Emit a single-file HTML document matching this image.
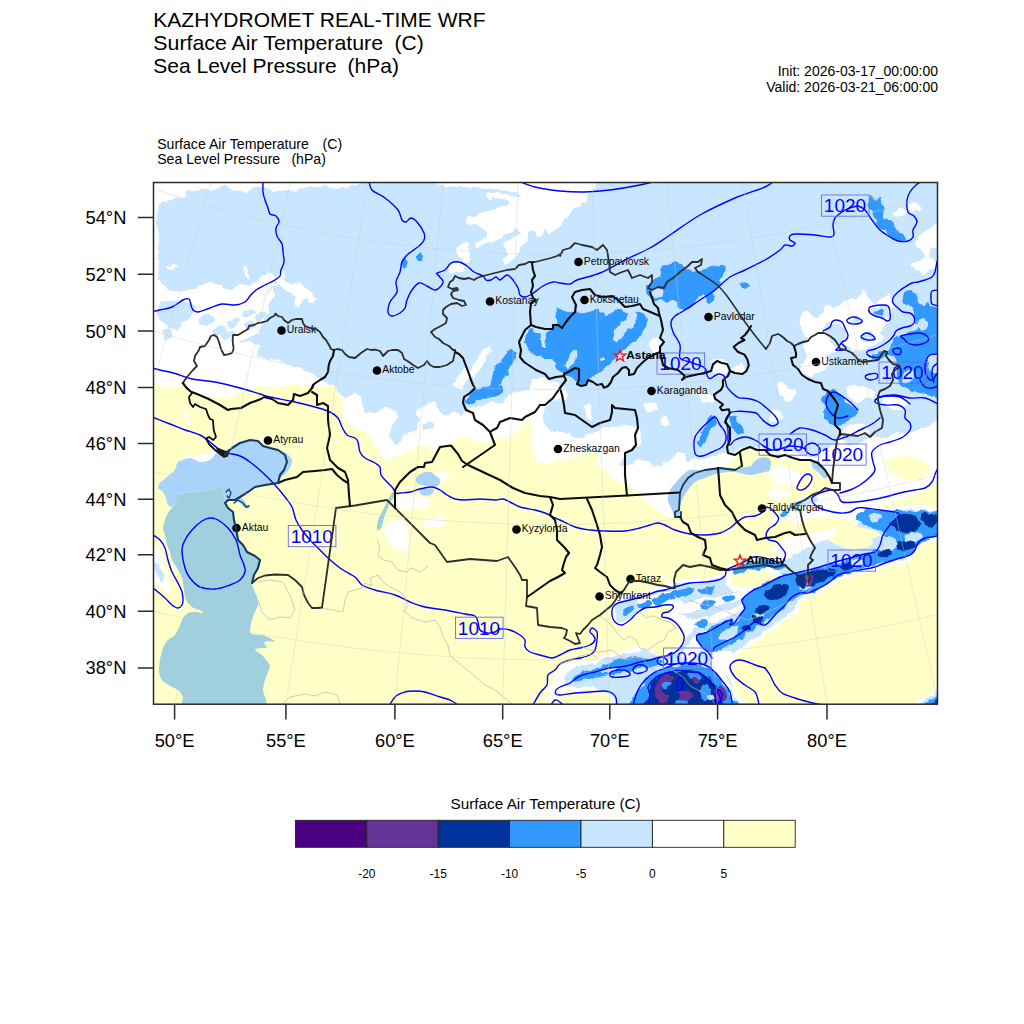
<!DOCTYPE html>
<html><head><meta charset="utf-8">
<style>
html,body{margin:0;padding:0;background:#fff;}
body{width:1024px;height:1024px;position:relative;overflow:hidden;font-family:"Liberation Sans",sans-serif;color:#000;}
svg{position:absolute;left:0;top:0;}
text{font-family:"Liberation Sans",sans-serif;}
</style></head><body>
<svg width="1024" height="1024" viewBox="0 0 1024 1024">
<defs><filter id="rag" x="-2%" y="-2%" width="104%" height="104%" filterUnits="objectBoundingBox"><feTurbulence type="fractalNoise" baseFrequency="0.11" numOctaves="2" seed="7" result="n"/><feDisplacementMap in="SourceGraphic" in2="n" scale="7" xChannelSelector="R" yChannelSelector="G"/></filter><clipPath id="mc"><rect x="153.5" y="182.5" width="784" height="521.7"/></clipPath></defs>
<!-- titles -->
<g font-size="21" fill="#000">
<text x="153.3" y="26.5" textLength="332.2" lengthAdjust="spacingAndGlyphs">KAZHYDROMET REAL-TIME WRF</text>
<text x="153.3" y="49.9" textLength="229.8" lengthAdjust="spacingAndGlyphs">Surface Air Temperature</text><text x="394.6" y="49.9">(C)</text>
<text x="153.3" y="73.3">Sea Level Pressure</text><text x="347.6" y="73.3">(hPa)</text>
</g>
<g font-size="14" text-anchor="end"><text x="938" y="75.6">Init: 2026-03-17_00:00:00</text><text x="938" y="91.6">Valid: 2026-03-21_06:00:00</text></g>
<g font-size="14.1"><text x="157.2" y="148.5">Surface Air Temperature</text><text x="322.6" y="148.5">(C)</text><text x="157.2" y="164.2">Sea Level Pressure</text><text x="291.4" y="164.2">(hPa)</text></g>
<!-- MAP -->
<g id="map" clip-path="url(#mc)">
<rect x="153" y="182" width="786" height="523" fill="#fff"/>
<g filter="url(#rag)">
<rect x="130" y="160" width="832" height="568" fill="#C8E6FF"/>
<path d="M150.0 180.0C183.7 163.3 319.3 179.0 352.0 180.0C384.7 181.0 349.3 184.7 346.0 186.0C342.7 187.3 336.7 188.0 332.0 188.0C327.3 188.0 322.5 185.8 318.0 186.0C313.5 186.2 309.3 188.3 305.0 189.0C300.7 189.7 296.5 189.5 292.0 190.0C287.5 190.5 282.3 192.3 278.0 192.0C273.7 191.7 269.7 189.0 266.0 188.0C262.3 187.0 259.3 185.3 256.0 186.0C252.7 186.7 249.3 191.2 246.0 192.0C242.7 192.8 239.3 191.8 236.0 191.0C232.7 190.2 229.8 187.2 226.0 187.0C222.2 186.8 217.3 189.5 213.0 190.0C208.7 190.5 204.2 189.8 200.0 190.0C195.8 190.2 190.8 189.8 188.0 191.0C185.2 192.2 185.8 195.5 183.0 197.0C180.2 198.5 174.7 199.0 171.0 200.0C167.3 201.0 163.2 200.5 161.0 203.0C158.8 205.5 158.5 207.2 158.0 215.0C157.5 222.8 158.0 239.7 158.0 250.0C158.0 260.3 159.3 272.0 158.0 277.0C156.7 282.0 151.3 296.2 150.0 280.0C148.7 263.8 116.3 196.7 150.0 180.0Z" fill="#FFFFFF"/>
<path d="M150.0 278.0C151.7 276.3 157.5 278.5 160.0 280.0C162.5 281.5 161.7 285.0 165.0 287.0C168.3 289.0 175.0 291.8 180.0 292.0C185.0 292.2 190.8 289.5 195.0 288.0C199.2 286.5 201.7 283.7 205.0 283.0C208.3 282.3 211.2 282.8 215.0 284.0C218.8 285.2 224.2 289.8 228.0 290.0C231.8 290.2 234.7 285.5 238.0 285.0C241.3 284.5 245.0 287.5 248.0 287.0C251.0 286.5 253.5 283.8 256.0 282.0C258.5 280.2 260.7 277.5 263.0 276.0C265.3 274.5 268.0 272.7 270.0 273.0C272.0 273.3 274.7 276.0 275.0 278.0C275.3 280.0 273.2 282.7 272.0 285.0C270.8 287.3 268.0 289.8 268.0 292.0C268.0 294.2 272.0 295.8 272.0 298.0C272.0 300.2 268.3 302.7 268.0 305.0C267.7 307.3 270.5 309.8 270.0 312.0C269.5 314.2 266.3 315.7 265.0 318.0C263.7 320.3 263.5 323.5 262.0 326.0C260.5 328.5 258.3 330.8 256.0 333.0C253.7 335.2 251.0 337.5 248.0 339.0C245.0 340.5 237.7 341.2 238.0 342.0C238.3 342.8 246.0 343.5 250.0 344.0C254.0 344.5 260.7 343.2 262.0 345.0C263.3 346.8 255.8 352.3 258.0 355.0C260.2 357.7 268.0 358.8 275.0 361.0C282.0 363.2 292.5 365.0 300.0 368.0C307.5 371.0 314.7 376.0 320.0 379.0C325.3 382.0 329.0 383.8 332.0 386.0C335.0 388.2 335.8 391.3 338.0 392.0C340.2 392.7 342.7 389.3 345.0 390.0C347.3 390.7 350.2 395.2 352.0 396.0C353.8 396.8 354.3 394.3 356.0 395.0C357.7 395.7 360.5 397.5 362.0 400.0C363.5 402.5 362.8 408.0 365.0 410.0C367.2 412.0 371.7 412.3 375.0 412.0C378.3 411.7 381.7 408.3 385.0 408.0C388.3 407.7 392.8 408.8 395.0 410.0C397.2 411.2 398.3 412.5 398.0 415.0C397.7 417.5 394.3 421.7 393.0 425.0C391.7 428.3 390.0 432.0 390.0 435.0C390.0 438.0 391.3 441.7 393.0 443.0C394.7 444.3 398.0 444.3 400.0 443.0C402.0 441.7 402.5 437.2 405.0 435.0C407.5 432.8 412.5 432.5 415.0 430.0C417.5 427.5 419.7 422.5 420.0 420.0C420.3 417.5 417.0 417.2 417.0 415.0C417.0 412.8 417.8 409.2 420.0 407.0C422.2 404.8 427.2 402.7 430.0 402.0C432.8 401.3 435.3 401.3 437.0 403.0C438.7 404.7 437.8 410.0 440.0 412.0C442.2 414.0 447.5 415.0 450.0 415.0C452.5 415.0 453.3 412.0 455.0 412.0C456.7 412.0 458.3 415.3 460.0 415.0C461.7 414.7 462.5 411.3 465.0 410.0C467.5 408.7 470.8 408.2 475.0 407.0C479.2 405.8 485.8 403.3 490.0 403.0C494.2 402.7 497.2 405.8 500.0 405.0C502.8 404.2 504.5 400.2 507.0 398.0C509.5 395.8 512.0 393.3 515.0 392.0C518.0 390.7 520.8 390.0 525.0 390.0C529.2 390.0 535.0 392.0 540.0 392.0C545.0 392.0 551.7 390.7 555.0 390.0C558.3 389.3 557.8 388.0 560.0 388.0C562.2 388.0 566.8 388.3 568.0 390.0C569.2 391.7 569.2 396.3 567.0 398.0C564.8 399.7 558.3 398.8 555.0 400.0C551.7 401.2 549.0 402.5 547.0 405.0C545.0 407.5 543.3 411.7 543.0 415.0C542.7 418.3 543.8 422.0 545.0 425.0C546.2 428.0 547.5 431.8 550.0 433.0C552.5 434.2 557.0 432.0 560.0 432.0C563.0 432.0 565.5 432.0 568.0 433.0C570.5 434.0 572.2 437.3 575.0 438.0C577.8 438.7 581.7 438.0 585.0 437.0C588.3 436.0 591.7 433.5 595.0 432.0C598.3 430.5 601.7 428.8 605.0 428.0C608.3 427.2 611.7 427.5 615.0 427.0C618.3 426.5 621.7 425.0 625.0 425.0C628.3 425.0 632.2 425.8 635.0 427.0C637.8 428.2 641.2 429.0 642.0 432.0C642.8 435.0 641.7 442.5 640.0 445.0C638.3 447.5 634.5 445.0 632.0 447.0C629.5 449.0 627.0 454.0 625.0 457.0C623.0 460.0 620.0 463.3 620.0 465.0C620.0 466.7 622.5 467.5 625.0 467.0C627.5 466.5 631.7 463.2 635.0 462.0C638.3 460.8 642.2 459.5 645.0 460.0C647.8 460.5 649.5 464.2 652.0 465.0C654.5 465.8 657.3 465.8 660.0 465.0C662.7 464.2 665.5 461.7 668.0 460.0C670.5 458.3 673.0 456.3 675.0 455.0C677.0 453.7 678.3 452.0 680.0 452.0C681.7 452.0 683.7 453.3 685.0 455.0C686.3 456.7 685.5 461.5 688.0 462.0C690.5 462.5 695.5 459.2 700.0 458.0C704.5 456.8 710.0 456.0 715.0 455.0C720.0 454.0 725.8 452.8 730.0 452.0C734.2 451.2 735.8 450.7 740.0 450.0C744.2 449.3 750.8 448.5 755.0 448.0C759.2 447.5 761.7 446.7 765.0 447.0C768.3 447.3 770.8 449.2 775.0 450.0C779.2 450.8 785.0 451.2 790.0 452.0C795.0 452.8 800.8 454.2 805.0 455.0C809.2 455.8 811.7 457.5 815.0 457.0C818.3 456.5 822.2 454.0 825.0 452.0C827.8 450.0 829.8 447.0 832.0 445.0C834.2 443.0 835.8 440.5 838.0 440.0C840.2 439.5 842.2 441.2 845.0 442.0C847.8 442.8 851.7 445.3 855.0 445.0C858.3 444.7 862.5 441.3 865.0 440.0C867.5 438.7 867.5 437.3 870.0 437.0C872.5 436.7 876.7 438.2 880.0 438.0C883.3 437.8 886.7 437.0 890.0 436.0C893.3 435.0 896.3 432.8 900.0 432.0C903.7 431.2 907.8 431.7 912.0 431.0C916.2 430.3 920.3 428.8 925.0 428.0C929.7 427.2 937.5 414.0 940.0 426.0C942.5 438.0 940.0 452.7 940.0 500.0C940.0 547.3 1071.7 675.0 940.0 710.0C808.3 745.0 281.7 745.0 150.0 710.0C18.3 675.0 150.0 570.0 150.0 500.0C150.0 430.0 150.0 327.0 150.0 290.0C150.0 253.0 148.3 279.7 150.0 278.0Z" fill="#FFFFFF"/>
<path d="M150.0 383.0C152.5 383.0 159.2 385.3 165.0 386.0C170.8 386.7 180.5 385.8 185.0 387.0C189.5 388.2 188.7 391.3 192.0 393.0C195.3 394.7 199.5 396.3 205.0 397.0C210.5 397.7 219.2 397.7 225.0 397.0C230.8 396.3 235.8 394.2 240.0 393.0C244.2 391.8 246.3 391.2 250.0 390.0C253.7 388.8 255.3 386.7 262.0 386.0C268.7 385.3 280.3 386.0 290.0 386.0C299.7 386.0 312.5 385.8 320.0 386.0C327.5 386.2 331.7 385.0 335.0 387.0C338.3 389.0 338.7 393.8 340.0 398.0C341.3 402.2 341.8 407.7 343.0 412.0C344.2 416.3 345.0 421.5 347.0 424.0C349.0 426.5 352.0 425.7 355.0 427.0C358.0 428.3 362.2 429.8 365.0 432.0C367.8 434.2 369.5 436.2 372.0 440.0C374.5 443.8 377.8 451.3 380.0 455.0C382.2 458.7 382.5 461.5 385.0 462.0C387.5 462.5 391.7 459.7 395.0 458.0C398.3 456.3 401.7 453.8 405.0 452.0C408.3 450.2 411.7 448.2 415.0 447.0C418.3 445.8 422.5 444.2 425.0 445.0C427.5 445.8 428.0 451.7 430.0 452.0C432.0 452.3 434.5 448.2 437.0 447.0C439.5 445.8 442.0 446.2 445.0 445.0C448.0 443.8 451.7 441.3 455.0 440.0C458.3 438.7 461.7 437.0 465.0 437.0C468.3 437.0 471.7 439.2 475.0 440.0C478.3 440.8 481.7 442.0 485.0 442.0C488.3 442.0 491.7 440.7 495.0 440.0C498.3 439.3 502.2 438.8 505.0 438.0C507.8 437.2 509.5 436.7 512.0 435.0C514.5 433.3 517.5 430.0 520.0 428.0C522.5 426.0 524.8 423.0 527.0 423.0C529.2 423.0 532.2 425.2 533.0 428.0C533.8 430.8 531.7 436.3 532.0 440.0C532.3 443.7 534.5 446.7 535.0 450.0C535.5 453.3 533.3 457.8 535.0 460.0C536.7 462.2 542.0 462.7 545.0 463.0C548.0 463.3 550.5 462.8 553.0 462.0C555.5 461.2 557.2 458.3 560.0 458.0C562.8 457.7 566.7 460.5 570.0 460.0C573.3 459.5 576.7 456.3 580.0 455.0C583.3 453.7 586.7 452.0 590.0 452.0C593.3 452.0 599.2 452.8 600.0 455.0C600.8 457.2 594.2 462.5 595.0 465.0C595.8 467.5 601.7 467.8 605.0 470.0C608.3 472.2 611.7 475.8 615.0 478.0C618.3 480.2 621.7 481.0 625.0 483.0C628.3 485.0 632.5 487.7 635.0 490.0C637.5 492.3 637.5 494.5 640.0 497.0C642.5 499.5 646.7 502.5 650.0 505.0C653.3 507.5 656.7 510.0 660.0 512.0C663.3 514.0 667.3 517.0 670.0 517.0C672.7 517.0 675.2 515.2 676.0 512.0C676.8 508.8 674.3 502.7 675.0 498.0C675.7 493.3 677.5 487.7 680.0 484.0C682.5 480.3 685.8 478.0 690.0 476.0C694.2 474.0 700.3 473.0 705.0 472.0C709.7 471.0 714.3 471.0 718.0 470.0C721.7 469.0 724.7 467.8 727.0 466.0C729.3 464.2 730.2 460.8 732.0 459.0C733.8 457.2 735.7 456.2 738.0 455.0C740.3 453.8 742.8 452.7 746.0 452.0C749.2 451.3 753.8 451.2 757.0 451.0C760.2 450.8 761.5 449.8 765.0 451.0C768.5 452.2 773.3 456.5 778.0 458.0C782.7 459.5 787.7 459.3 793.0 460.0C798.3 460.7 805.2 460.3 810.0 462.0C814.8 463.7 818.7 467.0 822.0 470.0C825.3 473.0 828.3 477.3 830.0 480.0C831.7 482.7 830.3 482.7 832.0 486.0C833.7 489.3 835.3 496.7 840.0 500.0C844.7 503.3 850.0 506.0 860.0 506.0C870.0 506.0 886.7 502.7 900.0 500.0C913.3 497.3 933.3 473.3 940.0 490.0C946.7 506.7 940.0 563.3 940.0 600.0C940.0 636.7 1071.7 691.7 940.0 710.0C808.3 728.3 281.7 728.3 150.0 710.0C18.3 691.7 150.0 651.7 150.0 600.0C150.0 548.3 150.0 435.7 150.0 400.0C150.0 364.3 150.0 388.8 150.0 386.0C150.0 383.2 147.5 383.0 150.0 383.0Z" fill="#FFFFC8"/>
<path d="M442.0 180.0C458.9 179.3 573.1 177.9 590.0 180.0C606.9 182.1 587.9 195.3 587.0 198.0C586.1 200.7 583.4 201.8 582.0 203.0C580.6 204.2 576.4 206.6 575.0 208.0C573.6 209.4 571.2 213.6 570.0 215.0C568.8 216.4 566.2 218.7 565.0 220.0C563.8 221.3 561.2 224.8 560.0 226.0C558.8 227.2 556.2 229.1 555.0 230.0C553.8 230.9 550.9 234.0 550.0 234.0C549.1 234.0 547.8 230.1 547.0 230.0C546.2 229.9 544.0 232.1 543.0 233.0C542.0 233.9 538.9 238.0 538.0 238.0C537.1 238.0 535.9 233.7 535.0 233.0C534.1 232.3 530.9 231.4 530.0 232.0C529.1 232.6 527.9 236.5 527.0 238.0C526.1 239.5 522.8 243.4 522.0 245.0C521.2 246.6 520.8 250.6 520.0 252.0C519.2 253.4 516.2 255.8 515.0 257.0C513.8 258.2 511.2 261.1 510.0 262.0C508.8 262.9 505.9 265.2 505.0 265.0C504.1 264.8 501.6 261.2 502.0 260.0C502.4 258.8 507.6 256.4 508.0 255.0C508.4 253.6 505.6 249.2 505.0 248.0C504.4 246.8 502.4 245.9 503.0 245.0C503.6 244.1 508.4 241.2 510.0 240.0C511.6 238.8 515.8 236.2 517.0 235.0C518.2 233.8 520.2 230.7 520.0 230.0C519.8 229.3 516.4 228.7 515.0 229.0C513.6 229.3 509.8 231.9 508.0 233.0C506.2 234.1 501.9 236.9 500.0 238.0C498.1 239.1 493.8 241.4 492.0 242.0C490.2 242.6 486.6 242.3 485.0 243.0C483.4 243.7 479.2 247.8 478.0 248.0C476.8 248.2 474.8 245.9 475.0 245.0C475.2 244.1 478.6 241.2 480.0 240.0C481.4 238.8 486.6 236.2 487.0 235.0C487.4 233.8 484.1 231.2 483.0 230.0C481.9 228.8 479.2 225.6 478.0 225.0C476.8 224.4 474.3 225.3 473.0 225.0C471.7 224.7 467.4 222.9 467.0 222.0C466.6 221.1 468.7 217.8 470.0 217.0C471.3 216.2 476.2 215.6 478.0 215.0C479.8 214.4 483.2 212.6 485.0 212.0C486.8 211.4 491.2 210.6 493.0 210.0C494.8 209.4 498.4 207.6 500.0 207.0C501.6 206.4 506.1 205.7 507.0 205.0C507.9 204.3 508.5 201.7 508.0 201.0C507.5 200.3 504.5 199.3 503.0 199.0C501.5 198.7 496.5 197.9 495.0 198.0C493.5 198.1 491.2 200.1 490.0 200.0C488.8 199.9 485.0 197.8 485.0 197.0C485.0 196.2 488.2 193.5 490.0 193.0C491.8 192.5 497.7 192.8 500.0 193.0C502.3 193.2 507.7 194.7 510.0 195.0C512.3 195.3 519.4 196.3 520.0 196.0C520.6 195.7 517.3 192.7 515.0 192.0C512.7 191.3 502.9 190.5 500.0 190.0C497.1 189.5 492.9 188.2 490.0 188.0C487.1 187.8 478.5 188.1 475.0 188.0C471.5 187.9 463.5 187.2 460.0 187.0C456.5 186.8 447.1 186.8 445.0 186.0C442.9 185.2 425.1 180.7 442.0 180.0Z" fill="#FFFFFF"/>
<path d="M460.0 245.0C461.3 243.8 464.3 242.2 466.0 243.0C467.7 243.8 469.3 247.5 470.0 250.0C470.7 252.5 470.8 256.0 470.0 258.0C469.2 260.0 466.7 262.0 465.0 262.0C463.3 262.0 461.2 260.0 460.0 258.0C458.8 256.0 458.0 252.2 458.0 250.0C458.0 247.8 458.7 246.2 460.0 245.0Z" fill="#FFFFFF"/>
<path d="M451.0 266.0C452.3 264.5 455.7 262.2 458.0 262.0C460.3 261.8 464.0 263.5 465.0 265.0C466.0 266.5 465.5 269.7 464.0 271.0C462.5 272.3 458.3 273.0 456.0 273.0C453.7 273.0 450.8 272.2 450.0 271.0C449.2 269.8 449.7 267.5 451.0 266.0Z" fill="#FFFFFF"/>
<path d="M560.0 180.0C565.3 176.7 583.5 178.3 588.0 180.0C592.5 181.7 587.3 186.7 587.0 190.0C586.7 193.3 588.0 197.0 586.0 200.0C584.0 203.0 578.0 205.0 575.0 208.0C572.0 211.0 570.5 215.3 568.0 218.0C565.5 220.7 562.2 222.7 560.0 224.0C557.8 225.3 555.7 230.0 555.0 226.0C554.3 222.0 555.2 207.7 556.0 200.0C556.8 192.3 554.7 183.3 560.0 180.0Z" fill="#FFFFFF"/>
<path d="M277.0 275.0C278.2 273.5 281.7 271.9 283.0 272.0C284.3 272.1 286.9 274.8 287.0 276.0C287.1 277.2 283.6 279.9 284.0 281.0C284.4 282.1 287.9 283.7 290.0 284.0C292.1 284.3 297.9 282.6 300.0 283.0C302.1 283.4 304.7 285.8 306.0 287.0C307.3 288.2 308.7 290.3 310.0 292.0C311.3 293.7 315.7 298.5 316.0 300.0C316.3 301.5 313.5 303.3 312.0 303.0C310.5 302.7 306.6 298.0 305.0 298.0C303.4 298.0 301.1 301.7 300.0 303.0C298.9 304.3 297.9 308.1 297.0 308.0C296.1 307.9 293.1 303.6 293.0 302.0C292.9 300.4 296.4 297.3 296.0 296.0C295.6 294.7 291.6 292.8 290.0 292.0C288.4 291.2 285.6 290.9 284.0 290.0C282.4 289.1 279.6 285.4 278.0 285.0C276.4 284.6 272.4 285.7 272.0 287.0C271.6 288.3 275.3 293.3 275.0 295.0C274.7 296.7 271.2 299.7 270.0 300.0C268.8 300.3 266.0 298.3 266.0 297.0C266.0 295.7 268.9 291.9 270.0 290.0C271.1 288.1 273.1 285.0 274.0 283.0C274.9 281.0 275.8 276.5 277.0 275.0Z" fill="#FFFFFF"/>
<path d="M243.0 268.0C243.3 267.0 246.0 265.3 247.0 266.0C248.0 266.7 248.5 270.0 249.0 272.0C249.5 274.0 250.3 277.2 250.0 278.0C249.7 278.8 247.8 278.0 247.0 277.0C246.2 276.0 245.7 273.5 245.0 272.0C244.3 270.5 242.7 269.0 243.0 268.0Z" fill="#FFFFFF"/>
<path d="M167.0 266.0C168.3 265.2 172.8 264.2 175.0 264.0C177.2 263.8 180.2 264.3 180.0 265.0C179.8 265.7 176.2 267.3 174.0 268.0C171.8 268.7 168.2 269.3 167.0 269.0C165.8 268.7 165.7 266.8 167.0 266.0Z" fill="#FFFFFF"/>
<path d="M470.0 372.0C470.3 369.2 473.7 363.7 476.0 360.0C478.3 356.3 481.7 352.5 484.0 350.0C486.3 347.5 488.8 345.0 490.0 345.0C491.2 345.0 491.7 347.5 491.0 350.0C490.3 352.5 487.8 356.7 486.0 360.0C484.2 363.3 482.0 367.2 480.0 370.0C478.0 372.8 475.7 376.7 474.0 377.0C472.3 377.3 469.7 374.8 470.0 372.0Z" fill="#FFFFFF"/>
<path d="M455.0 385.0C454.3 382.8 456.3 377.7 458.0 375.0C459.7 372.3 463.0 369.5 465.0 369.0C467.0 368.5 469.8 370.2 470.0 372.0C470.2 373.8 467.3 377.3 466.0 380.0C464.7 382.7 463.8 387.2 462.0 388.0C460.2 388.8 455.7 387.2 455.0 385.0Z" fill="#FFFFFF"/>
<path d="M160.0 305.0C161.7 302.7 165.0 300.5 168.0 300.0C171.0 299.5 174.3 301.3 178.0 302.0C181.7 302.7 187.2 302.7 190.0 304.0C192.8 305.3 195.0 307.7 195.0 310.0C195.0 312.3 192.0 315.7 190.0 318.0C188.0 320.3 185.3 322.0 183.0 324.0C180.7 326.0 178.5 329.3 176.0 330.0C173.5 330.7 170.2 329.7 168.0 328.0C165.8 326.3 164.7 322.3 163.0 320.0C161.3 317.7 158.5 316.5 158.0 314.0C157.5 311.5 158.3 307.3 160.0 305.0Z" fill="#C8E6FF"/>
<path d="M228.0 322.0C228.7 320.5 232.0 318.3 234.0 318.0C236.0 317.7 239.7 318.7 240.0 320.0C240.3 321.3 237.7 324.8 236.0 326.0C234.3 327.2 231.3 327.7 230.0 327.0C228.7 326.3 227.3 323.5 228.0 322.0Z" fill="#C8E6FF"/>
<path d="M243.0 312.0C244.2 310.8 248.2 308.8 250.0 309.0C251.8 309.2 254.3 311.7 254.0 313.0C253.7 314.3 249.8 316.5 248.0 317.0C246.2 317.5 243.8 316.8 243.0 316.0C242.2 315.2 241.8 313.2 243.0 312.0Z" fill="#C8E6FF"/>
<path d="M222.0 334.0C223.2 332.8 227.7 331.0 230.0 331.0C232.3 331.0 236.0 332.8 236.0 334.0C236.0 335.2 232.2 337.3 230.0 338.0C227.8 338.7 224.3 338.7 223.0 338.0C221.7 337.3 220.8 335.2 222.0 334.0Z" fill="#C8E6FF"/>
<path d="M246.0 324.0C247.0 322.8 250.3 320.8 252.0 321.0C253.7 321.2 256.2 323.7 256.0 325.0C255.8 326.3 252.7 328.5 251.0 329.0C249.3 329.5 246.8 328.8 246.0 328.0C245.2 327.2 245.0 325.2 246.0 324.0Z" fill="#C8E6FF"/>
<path d="M163.0 332.0C163.7 330.5 168.5 329.3 170.0 330.0C171.5 330.7 172.7 334.5 172.0 336.0C171.3 337.5 167.5 339.7 166.0 339.0C164.5 338.3 162.3 333.5 163.0 332.0Z" fill="#C8E6FF"/>
<path d="M340.0 386.0C341.3 384.7 345.5 383.7 348.0 384.0C350.5 384.3 354.3 386.0 355.0 388.0C355.7 390.0 353.7 394.5 352.0 396.0C350.3 397.5 347.0 397.7 345.0 397.0C343.0 396.3 340.8 393.8 340.0 392.0C339.2 390.2 338.7 387.3 340.0 386.0Z" fill="#C8E6FF"/>
<path d="M424.0 424.0C425.0 422.8 429.2 421.7 431.0 422.0C432.8 422.3 435.2 424.7 435.0 426.0C434.8 427.3 431.7 429.5 430.0 430.0C428.3 430.5 426.0 430.0 425.0 429.0C424.0 428.0 423.0 425.2 424.0 424.0Z" fill="#C8E6FF"/>
<path d="M585.0 405.0C585.8 403.8 588.8 401.8 590.0 403.0C591.2 404.2 591.8 409.2 592.0 412.0C592.2 414.8 591.8 419.0 591.0 420.0C590.2 421.0 588.0 419.7 587.0 418.0C586.0 416.3 585.3 412.2 585.0 410.0C584.7 407.8 584.2 406.2 585.0 405.0Z" fill="#FFFFFF"/>
<path d="M645.0 404.0C646.0 402.7 650.2 401.3 652.0 402.0C653.8 402.7 656.0 406.3 656.0 408.0C656.0 409.7 653.7 411.7 652.0 412.0C650.3 412.3 647.2 411.3 646.0 410.0C644.8 408.7 644.0 405.3 645.0 404.0Z" fill="#FFFFFF"/>
<path d="M661.0 418.0C661.5 416.7 664.8 416.2 666.0 417.0C667.2 417.8 668.5 421.7 668.0 423.0C667.5 424.3 664.2 425.8 663.0 425.0C661.8 424.2 660.5 419.3 661.0 418.0Z" fill="#FFFFFF"/>
<path d="M700.0 394.0C700.8 392.3 705.8 391.5 708.0 392.0C710.2 392.5 712.7 395.2 713.0 397.0C713.3 398.8 711.7 402.2 710.0 403.0C708.3 403.8 704.7 403.5 703.0 402.0C701.3 400.5 699.2 395.7 700.0 394.0Z" fill="#FFFFFF"/>
<path d="M940.0 222.0C938.7 217.5 932.0 226.7 930.0 228.0C928.0 229.3 926.6 230.7 925.0 232.0C923.4 233.3 919.3 236.3 918.0 238.0C916.7 239.7 914.5 243.4 915.0 245.0C915.5 246.6 920.7 248.3 922.0 250.0C923.3 251.7 925.9 256.4 925.0 258.0C924.1 259.6 917.0 261.1 915.0 262.0C913.0 262.9 909.6 263.9 910.0 265.0C910.4 266.1 916.4 268.7 918.0 270.0C919.6 271.3 920.4 275.0 922.0 275.0C923.6 275.0 927.6 271.7 930.0 270.0C932.4 268.3 938.7 268.4 940.0 262.0C941.3 255.6 941.3 226.5 940.0 222.0Z" fill="#FFFFFF"/>
<path d="M928.0 250.0C928.3 248.0 932.0 248.0 934.0 248.0C936.0 248.0 939.0 247.7 940.0 250.0C941.0 252.3 941.3 260.3 940.0 262.0C938.7 263.7 934.0 262.0 932.0 260.0C930.0 258.0 927.7 252.0 928.0 250.0Z" fill="#C8E6FF"/>
<path d="M895.0 211.0C895.7 209.8 898.3 207.8 900.0 208.0C901.7 208.2 904.7 210.7 905.0 212.0C905.3 213.3 903.5 215.5 902.0 216.0C900.5 216.5 897.2 215.8 896.0 215.0C894.8 214.2 894.3 212.2 895.0 211.0Z" fill="#FFFFFF"/>
<path d="M908.0 205.0C909.2 203.8 914.0 202.5 916.0 203.0C918.0 203.5 920.3 206.5 920.0 208.0C919.7 209.5 915.8 211.7 914.0 212.0C912.2 212.3 910.0 211.2 909.0 210.0C908.0 208.8 906.8 206.2 908.0 205.0Z" fill="#FFFFFF"/>
<path d="M800.0 320.0C800.4 318.3 801.9 314.2 803.0 313.0C804.1 311.8 806.8 310.6 808.0 311.0C809.2 311.4 810.7 315.1 812.0 316.0C813.3 316.9 816.7 318.5 818.0 318.0C819.3 317.5 820.9 313.6 822.0 312.0C823.1 310.4 824.3 306.7 826.0 306.0C827.7 305.3 832.9 307.4 835.0 307.0C837.1 306.6 840.0 304.2 842.0 303.0C844.0 301.8 848.1 298.4 850.0 298.0C851.9 297.6 854.7 300.4 856.0 300.0C857.3 299.6 859.1 296.3 860.0 295.0C860.9 293.7 862.2 290.4 863.0 290.0C863.8 289.6 865.3 290.9 866.0 292.0C866.7 293.1 867.1 296.7 868.0 298.0C868.9 299.3 871.4 301.9 873.0 302.0C874.6 302.1 878.3 299.8 880.0 299.0C881.7 298.2 884.7 296.7 886.0 296.0C887.3 295.3 889.2 293.5 890.0 294.0C890.8 294.5 891.7 297.9 892.0 300.0C892.3 302.1 892.3 307.3 892.0 310.0C891.7 312.7 890.9 317.9 890.0 320.0C889.1 322.1 886.3 324.4 885.0 326.0C883.7 327.6 880.1 330.5 880.0 332.0C879.9 333.5 884.0 335.7 884.0 337.0C884.0 338.3 881.5 340.8 880.0 342.0C878.5 343.2 874.9 344.9 873.0 346.0C871.1 347.1 867.7 349.2 866.0 350.0C864.3 350.8 861.5 352.0 860.0 352.0C858.5 352.0 856.6 350.9 855.0 350.0C853.4 349.1 849.7 345.7 848.0 345.0C846.3 344.3 843.3 344.3 842.0 345.0C840.7 345.7 839.3 349.1 838.0 350.0C836.7 350.9 833.6 351.2 832.0 352.0C830.4 352.8 826.3 354.7 826.0 356.0C825.7 357.3 830.0 360.4 830.0 362.0C830.0 363.6 827.3 366.7 826.0 368.0C824.7 369.3 821.9 370.9 820.0 372.0C818.1 373.1 814.0 375.7 812.0 376.0C810.0 376.3 806.6 374.8 805.0 374.0C803.4 373.2 800.3 371.6 800.0 370.0C799.7 368.4 802.1 364.0 803.0 362.0C803.9 360.0 806.9 356.9 807.0 355.0C807.1 353.1 803.9 350.0 804.0 348.0C804.1 346.0 808.0 341.9 808.0 340.0C808.0 338.1 805.1 335.9 804.0 334.0C802.9 332.1 800.5 327.9 800.0 326.0C799.5 324.1 799.6 321.7 800.0 320.0Z" fill="#FFFFFF"/>
<path d="M826.0 326.0C826.7 323.0 829.7 322.3 832.0 322.0C834.3 321.7 837.8 322.3 840.0 324.0C842.2 325.7 844.0 329.3 845.0 332.0C846.0 334.7 846.5 337.8 846.0 340.0C845.5 342.2 844.0 344.0 842.0 345.0C840.0 346.0 836.3 346.8 834.0 346.0C831.7 345.2 829.3 343.3 828.0 340.0C826.7 336.7 825.3 329.0 826.0 326.0Z" fill="#C8E6FF"/>
<path d="M851.0 320.0C851.5 318.8 854.2 317.0 856.0 317.0C857.8 317.0 861.3 318.8 862.0 320.0C862.7 321.2 861.5 323.3 860.0 324.0C858.5 324.7 854.5 324.7 853.0 324.0C851.5 323.3 850.5 321.2 851.0 320.0Z" fill="#C8E6FF"/>
<path d="M862.0 336.0C862.7 334.8 866.0 333.0 868.0 333.0C870.0 333.0 873.3 334.8 874.0 336.0C874.7 337.2 873.7 339.3 872.0 340.0C870.3 340.7 865.7 340.7 864.0 340.0C862.3 339.3 861.3 337.2 862.0 336.0Z" fill="#C8E6FF"/>
<path d="M871.0 310.0C871.5 308.3 875.5 306.5 878.0 306.0C880.5 305.5 884.2 305.8 886.0 307.0C887.8 308.2 888.7 311.0 889.0 313.0C889.3 315.0 889.2 318.2 888.0 319.0C886.8 319.8 884.2 318.5 882.0 318.0C879.8 317.5 876.8 317.3 875.0 316.0C873.2 314.7 870.5 311.7 871.0 310.0Z" fill="#C8E6FF"/>
<path d="M874.0 311.0C874.8 310.2 878.3 308.8 880.0 309.0C881.7 309.2 884.0 311.0 884.0 312.0C884.0 313.0 881.5 314.7 880.0 315.0C878.5 315.3 876.0 314.7 875.0 314.0C874.0 313.3 873.2 311.8 874.0 311.0Z" fill="#3399FF"/>
<path d="M778.0 384.0C778.7 381.8 782.3 381.3 784.0 382.0C785.7 382.7 787.7 386.0 788.0 388.0C788.3 390.0 787.3 392.8 786.0 394.0C784.7 395.2 781.3 396.7 780.0 395.0C778.7 393.3 777.3 386.2 778.0 384.0Z" fill="#FFFFFF"/>
<path d="M846.0 388.0C846.8 385.7 851.8 385.2 855.0 385.0C858.2 384.8 862.5 385.5 865.0 387.0C867.5 388.5 870.5 391.8 870.0 394.0C869.5 396.2 865.3 399.2 862.0 400.0C858.7 400.8 852.7 401.0 850.0 399.0C847.3 397.0 845.2 390.3 846.0 388.0Z" fill="#FFFFFF"/>
<path d="M650.0 342.0C650.7 339.8 654.0 338.3 656.0 338.0C658.0 337.7 660.8 338.5 662.0 340.0C663.2 341.5 663.5 345.0 663.0 347.0C662.5 349.0 660.8 351.3 659.0 352.0C657.2 352.7 653.5 352.7 652.0 351.0C650.5 349.3 649.3 344.2 650.0 342.0Z" fill="#FFFFFF"/>
<path d="M712.0 362.0C713.3 360.2 717.3 358.7 720.0 359.0C722.7 359.3 726.8 361.8 728.0 364.0C729.2 366.2 728.7 370.2 727.0 372.0C725.3 373.8 720.5 375.3 718.0 375.0C715.5 374.7 713.0 372.2 712.0 370.0C711.0 367.8 710.7 363.8 712.0 362.0Z" fill="#FFFFFF"/>
<path d="M735.0 366.0C736.2 364.8 740.2 363.5 742.0 364.0C743.8 364.5 746.3 367.5 746.0 369.0C745.7 370.5 741.8 372.7 740.0 373.0C738.2 373.3 735.8 372.2 735.0 371.0C734.2 369.8 733.8 367.2 735.0 366.0Z" fill="#FFFFFF"/>
<path d="M557.0 310.0C558.1 308.8 562.6 310.6 565.0 311.0C567.4 311.4 572.3 312.9 575.0 313.0C577.7 313.1 582.1 312.5 585.0 312.0C587.9 311.5 594.6 309.0 597.0 309.0C599.4 309.0 601.7 311.1 603.0 312.0C604.3 312.9 605.4 316.1 607.0 316.0C608.6 315.9 613.0 311.9 615.0 311.0C617.0 310.1 620.7 308.7 622.0 309.0C623.3 309.3 623.7 312.5 625.0 313.0C626.3 313.5 630.0 313.1 632.0 313.0C634.0 312.9 637.9 311.1 640.0 312.0C642.1 312.9 647.1 318.1 648.0 320.0C648.9 321.9 647.7 324.4 647.0 326.0C646.3 327.6 643.9 330.4 643.0 332.0C642.1 333.6 641.7 336.3 640.0 338.0C638.3 339.7 632.7 343.1 630.0 345.0C627.3 346.9 622.0 350.0 620.0 352.0C618.0 354.0 616.3 358.3 615.0 360.0C613.7 361.7 611.6 363.5 610.0 365.0C608.4 366.5 605.0 369.7 603.0 371.0C601.0 372.3 596.7 373.8 595.0 375.0C593.3 376.2 591.7 378.7 590.0 380.0C588.3 381.3 584.0 385.0 582.0 385.0C580.0 385.0 576.6 381.3 575.0 380.0C573.4 378.7 571.6 375.9 570.0 375.0C568.4 374.1 564.6 373.7 563.0 373.0C561.4 372.3 559.1 371.5 558.0 370.0C556.9 368.5 556.3 363.3 555.0 362.0C553.7 360.7 550.0 360.5 548.0 360.0C546.0 359.5 542.0 358.7 540.0 358.0C538.0 357.3 534.6 356.3 533.0 355.0C531.4 353.7 529.1 350.0 528.0 348.0C526.9 346.0 525.1 342.1 525.0 340.0C524.9 337.9 526.3 333.6 527.0 332.0C527.7 330.4 528.5 328.0 530.0 328.0C531.5 328.0 535.9 331.5 538.0 332.0C540.1 332.5 544.0 332.5 546.0 332.0C548.0 331.5 551.5 329.6 553.0 328.0C554.5 326.4 556.5 322.4 557.0 320.0C557.5 317.6 555.9 311.2 557.0 310.0Z" fill="#3399FF"/>
<path d="M541.0 331.0C541.7 329.7 544.2 328.8 545.0 330.0C545.8 331.2 546.0 335.3 546.0 338.0C546.0 340.7 545.7 344.7 545.0 346.0C544.3 347.3 542.7 347.3 542.0 346.0C541.3 344.7 541.2 340.5 541.0 338.0C540.8 335.5 540.3 332.3 541.0 331.0Z" fill="#C8E6FF"/>
<path d="M566.0 362.0C566.5 360.0 567.7 357.0 569.0 355.0C570.3 353.0 572.5 350.7 574.0 350.0C575.5 349.3 577.5 349.7 578.0 351.0C578.5 352.3 577.8 355.8 577.0 358.0C576.2 360.2 574.3 362.3 573.0 364.0C571.7 365.7 570.2 367.5 569.0 368.0C567.8 368.5 566.5 368.0 566.0 367.0C565.5 366.0 565.5 364.0 566.0 362.0Z" fill="#C8E6FF"/>
<path d="M614.0 336.0C614.3 333.8 615.8 330.3 617.0 328.0C618.2 325.7 619.5 323.0 621.0 322.0C622.5 321.0 625.0 321.0 626.0 322.0C627.0 323.0 627.5 326.0 627.0 328.0C626.5 330.0 624.3 332.0 623.0 334.0C621.7 336.0 620.3 338.8 619.0 340.0C617.7 341.2 615.8 341.7 615.0 341.0C614.2 340.3 613.7 338.2 614.0 336.0Z" fill="#C8E6FF"/>
<path d="M626.0 322.0C626.2 319.7 626.8 315.7 628.0 314.0C629.2 312.3 631.5 312.0 633.0 312.0C634.5 312.0 636.7 312.3 637.0 314.0C637.3 315.7 636.0 319.7 635.0 322.0C634.0 324.3 632.3 327.0 631.0 328.0C629.7 329.0 627.8 329.0 627.0 328.0C626.2 327.0 625.8 324.3 626.0 322.0Z" fill="#C8E6FF"/>
<path d="M600.0 358.0C600.2 357.2 602.2 355.8 603.0 356.0C603.8 356.2 605.2 358.2 605.0 359.0C604.8 359.8 602.8 361.2 602.0 361.0C601.2 360.8 599.8 358.8 600.0 358.0Z" fill="#C8E6FF"/>
<path d="M490.0 385.0C491.5 382.0 492.3 375.8 494.0 372.0C495.7 368.2 497.7 365.3 500.0 362.0C502.3 358.7 505.7 354.0 508.0 352.0C510.3 350.0 512.7 349.3 514.0 350.0C515.3 350.7 516.3 353.3 516.0 356.0C515.7 358.7 513.7 362.7 512.0 366.0C510.3 369.3 508.0 373.0 506.0 376.0C504.0 379.0 502.0 381.3 500.0 384.0C498.0 386.7 496.0 390.2 494.0 392.0C492.0 393.8 489.5 395.3 488.0 395.0C486.5 394.7 484.7 391.7 485.0 390.0C485.3 388.3 488.5 388.0 490.0 385.0Z" fill="#3399FF"/>
<path d="M646.0 290.0C645.7 287.7 648.4 284.9 650.0 283.0C651.6 281.1 656.4 278.0 658.0 276.0C659.6 274.0 660.7 269.6 662.0 268.0C663.3 266.4 666.3 264.8 668.0 264.0C669.7 263.2 673.0 261.9 675.0 262.0C677.0 262.1 681.0 263.9 683.0 265.0C685.0 266.1 687.7 269.2 690.0 270.0C692.3 270.8 697.1 271.3 700.0 271.0C702.9 270.7 709.1 268.7 712.0 268.0C714.9 267.3 720.3 265.9 722.0 266.0C723.7 266.1 725.0 267.4 725.0 269.0C725.0 270.6 722.9 275.7 722.0 278.0C721.1 280.3 718.9 283.9 718.0 286.0C717.1 288.1 715.5 292.1 715.0 294.0C714.5 295.9 714.9 298.8 714.0 300.0C713.1 301.2 709.2 303.0 708.0 303.0C706.8 303.0 705.8 300.9 705.0 300.0C704.2 299.1 703.1 296.0 702.0 296.0C700.9 296.0 698.3 298.7 697.0 300.0C695.7 301.3 693.2 304.7 692.0 306.0C690.8 307.3 689.2 309.3 688.0 310.0C686.8 310.7 684.1 311.4 683.0 311.0C681.9 310.6 680.7 308.2 680.0 307.0C679.3 305.8 679.1 302.9 678.0 302.0C676.9 301.1 673.5 299.9 672.0 300.0C670.5 300.1 668.3 303.0 667.0 303.0C665.7 303.0 663.3 300.0 662.0 300.0C660.7 300.0 658.3 303.0 657.0 303.0C655.7 303.0 653.5 301.7 652.0 300.0C650.5 298.3 646.3 292.3 646.0 290.0Z" fill="#3399FF"/>
<path d="M652.0 292.0C652.2 290.3 655.2 288.3 657.0 288.0C658.8 287.7 662.2 288.7 663.0 290.0C663.8 291.3 663.2 294.7 662.0 296.0C660.8 297.3 657.7 298.7 656.0 298.0C654.3 297.3 651.8 293.7 652.0 292.0Z" fill="#C8E6FF"/>
<path d="M740.0 285.0C740.8 284.0 744.3 282.2 746.0 282.0C747.7 281.8 750.2 283.0 750.0 284.0C749.8 285.0 746.5 287.3 745.0 288.0C743.5 288.7 741.8 288.5 741.0 288.0C740.2 287.5 739.2 286.0 740.0 285.0Z" fill="#3399FF"/>
<path d="M402.0 262.0C402.3 260.3 404.0 258.3 405.0 258.0C406.0 257.7 407.8 258.7 408.0 260.0C408.2 261.3 406.8 264.7 406.0 266.0C405.2 267.3 403.7 268.7 403.0 268.0C402.3 267.3 401.7 263.7 402.0 262.0Z" fill="#3399FF"/>
<path d="M417.0 256.0C417.5 254.7 419.8 252.3 421.0 252.0C422.2 251.7 424.0 252.8 424.0 254.0C424.0 255.2 422.0 258.0 421.0 259.0C420.0 260.0 418.7 260.5 418.0 260.0C417.3 259.5 416.5 257.3 417.0 256.0Z" fill="#3399FF"/>
<path d="M869.0 197.0C869.9 196.3 874.5 199.9 876.0 200.0C877.5 200.1 879.1 196.7 880.0 198.0C880.9 199.3 882.3 207.1 883.0 210.0C883.7 212.9 883.8 218.4 885.0 220.0C886.2 221.6 890.5 220.7 892.0 222.0C893.5 223.3 894.7 228.3 896.0 230.0C897.3 231.7 900.8 233.5 902.0 235.0C903.2 236.5 905.5 240.2 905.0 241.0C904.5 241.8 900.0 241.5 898.0 241.0C896.0 240.5 891.7 238.5 890.0 237.0C888.3 235.5 886.6 231.2 885.0 230.0C883.4 228.8 879.5 230.0 878.0 228.0C876.5 226.0 875.2 218.1 874.0 215.0C872.8 211.9 869.7 207.4 869.0 205.0C868.3 202.6 868.1 197.7 869.0 197.0Z" fill="#3399FF"/>
<path d="M905.0 292.0C906.2 290.9 910.4 289.9 912.0 290.0C913.6 290.1 916.2 291.4 917.0 293.0C917.8 294.6 917.3 300.4 918.0 302.0C918.7 303.6 920.7 304.9 922.0 305.0C923.3 305.1 926.7 302.6 928.0 303.0C929.3 303.4 930.4 306.8 932.0 308.0C933.6 309.2 938.9 305.1 940.0 312.0C941.1 318.9 940.0 348.9 940.0 360.0C940.0 371.1 941.6 390.5 940.0 395.0C938.4 399.5 931.2 394.4 928.0 394.0C924.8 393.6 919.1 392.8 916.0 392.0C912.9 391.2 907.5 389.6 905.0 388.0C902.5 386.4 898.1 382.4 897.0 380.0C895.9 377.6 897.0 372.4 897.0 370.0C897.0 367.6 897.5 363.7 897.0 362.0C896.5 360.3 894.2 357.9 893.0 357.0C891.8 356.1 889.5 354.9 888.0 355.0C886.5 355.1 883.7 357.6 882.0 358.0C880.3 358.4 876.3 358.4 875.0 358.0C873.7 357.6 871.6 355.8 872.0 355.0C872.4 354.2 876.3 352.4 878.0 352.0C879.7 351.6 883.4 352.5 885.0 352.0C886.6 351.5 888.9 349.3 890.0 348.0C891.1 346.7 891.9 343.5 893.0 342.0C894.1 340.5 896.4 338.2 898.0 337.0C899.6 335.8 902.7 333.9 905.0 333.0C907.3 332.1 913.0 330.8 915.0 330.0C917.0 329.2 919.7 328.1 920.0 327.0C920.3 325.9 917.7 323.6 917.0 322.0C916.3 320.4 915.7 316.9 915.0 315.0C914.3 313.1 913.1 309.6 912.0 308.0C910.9 306.4 908.2 304.3 907.0 303.0C905.8 301.7 903.3 299.5 903.0 298.0C902.7 296.5 903.8 293.1 905.0 292.0Z" fill="#3399FF"/>
<path d="M930.0 356.0C931.3 354.8 934.0 354.3 936.0 354.0C938.0 353.7 941.0 351.0 942.0 354.0C943.0 357.0 943.3 368.7 942.0 372.0C940.7 375.3 936.2 374.7 934.0 374.0C931.8 373.3 930.0 370.2 929.0 368.0C928.0 365.8 927.8 363.0 928.0 361.0C928.2 359.0 928.7 357.2 930.0 356.0Z" fill="#C8E6FF"/>
<path d="M919.0 321.0C919.7 319.2 922.5 318.7 924.0 319.0C925.5 319.3 927.7 321.3 928.0 323.0C928.3 324.7 927.3 327.8 926.0 329.0C924.7 330.2 921.2 331.3 920.0 330.0C918.8 328.7 918.3 322.8 919.0 321.0Z" fill="#C8E6FF"/>
<path d="M905.0 372.0C906.3 370.3 910.2 369.3 912.0 370.0C913.8 370.7 916.3 374.0 916.0 376.0C915.7 378.0 912.0 381.3 910.0 382.0C908.0 382.7 904.8 381.7 904.0 380.0C903.2 378.3 903.7 373.7 905.0 372.0Z" fill="#C8E6FF"/>
<path d="M712.0 415.0C713.3 415.3 716.0 417.5 716.0 420.0C716.0 422.5 713.8 426.7 712.0 430.0C710.2 433.3 707.0 437.2 705.0 440.0C703.0 442.8 701.3 446.5 700.0 447.0C698.7 447.5 696.7 445.3 697.0 443.0C697.3 440.7 700.7 436.3 702.0 433.0C703.3 429.7 704.0 425.5 705.0 423.0C706.0 420.5 706.8 419.3 708.0 418.0C709.2 416.7 710.7 414.7 712.0 415.0Z" fill="#3399FF"/>
<path d="M728.0 417.0C728.8 415.3 733.3 414.2 735.0 415.0C736.7 415.8 736.7 419.5 738.0 422.0C739.3 424.5 741.8 428.2 743.0 430.0C744.2 431.8 745.8 432.2 745.0 433.0C744.2 433.8 740.0 435.5 738.0 435.0C736.0 434.5 734.3 431.7 733.0 430.0C731.7 428.3 730.8 427.2 730.0 425.0C729.2 422.8 727.2 418.7 728.0 417.0Z" fill="#3399FF"/>
<path d="M825.0 393.0C827.2 391.3 832.2 389.3 835.0 390.0C837.8 390.7 839.5 394.5 842.0 397.0C844.5 399.5 847.3 402.8 850.0 405.0C852.7 407.2 857.2 408.3 858.0 410.0C858.8 411.7 856.3 413.3 855.0 415.0C853.7 416.7 852.2 418.3 850.0 420.0C847.8 421.7 844.5 424.2 842.0 425.0C839.5 425.8 837.3 425.8 835.0 425.0C832.7 424.2 830.2 421.7 828.0 420.0C825.8 418.3 822.5 417.5 822.0 415.0C821.5 412.5 825.0 407.5 825.0 405.0C825.0 402.5 822.0 402.0 822.0 400.0C822.0 398.0 822.8 394.7 825.0 393.0Z" fill="#3399FF"/>
<path d="M467.0 398.0C467.8 396.2 469.8 393.7 472.0 392.0C474.2 390.3 477.0 389.2 480.0 388.0C483.0 386.8 486.7 385.3 490.0 385.0C493.3 384.7 498.0 384.8 500.0 386.0C502.0 387.2 502.8 390.3 502.0 392.0C501.2 393.7 497.3 395.2 495.0 396.0C492.7 396.8 490.5 396.3 488.0 397.0C485.5 397.7 482.7 398.8 480.0 400.0C477.3 401.2 474.2 403.5 472.0 404.0C469.8 404.5 467.8 404.0 467.0 403.0C466.2 402.0 466.2 399.8 467.0 398.0Z" fill="#3399FF"/>
<path d="M882.0 400.0C883.0 398.5 887.0 396.3 890.0 396.0C893.0 395.7 897.3 396.7 900.0 398.0C902.7 399.3 906.0 402.0 906.0 404.0C906.0 406.0 902.7 409.3 900.0 410.0C897.3 410.7 892.7 408.8 890.0 408.0C887.3 407.2 885.3 406.3 884.0 405.0C882.7 403.7 881.0 401.5 882.0 400.0Z" fill="#FFFFFF"/>
<path d="M780.0 392.0C780.7 390.0 785.3 388.0 788.0 388.0C790.7 388.0 795.3 390.0 796.0 392.0C796.7 394.0 794.0 398.7 792.0 400.0C790.0 401.3 786.0 401.3 784.0 400.0C782.0 398.7 779.3 394.0 780.0 392.0Z" fill="#FFFFFF"/>
<path d="M865.0 392.0C866.2 390.7 870.2 389.3 872.0 390.0C873.8 390.7 876.3 394.3 876.0 396.0C875.7 397.7 871.8 399.7 870.0 400.0C868.2 400.3 865.8 399.3 865.0 398.0C864.2 396.7 863.8 393.3 865.0 392.0Z" fill="#FFFFFF"/>
<path d="M845.0 428.0C845.8 426.2 851.7 424.3 855.0 424.0C858.3 423.7 862.5 424.7 865.0 426.0C867.5 427.3 870.8 430.3 870.0 432.0C869.2 433.7 863.3 435.5 860.0 436.0C856.7 436.5 852.5 436.3 850.0 435.0C847.5 433.7 844.2 429.8 845.0 428.0Z" fill="#FFFFFF"/>
<path d="M770.0 412.0C771.2 410.3 775.7 409.3 778.0 410.0C780.3 410.7 784.0 414.0 784.0 416.0C784.0 418.0 780.2 421.3 778.0 422.0C775.8 422.7 772.3 421.7 771.0 420.0C769.7 418.3 768.8 413.7 770.0 412.0Z" fill="#FFFFFF"/>
<path d="M200.0 318.0C201.0 316.3 205.7 314.0 208.0 314.0C210.3 314.0 213.7 316.3 214.0 318.0C214.3 319.7 212.0 323.0 210.0 324.0C208.0 325.0 203.7 325.0 202.0 324.0C200.3 323.0 199.0 319.7 200.0 318.0Z" fill="#C8E6FF"/>
<path d="M212.0 330.0C213.2 328.5 217.7 326.0 220.0 326.0C222.3 326.0 226.0 328.5 226.0 330.0C226.0 331.5 222.2 334.2 220.0 335.0C217.8 335.8 214.3 335.8 213.0 335.0C211.7 334.2 210.8 331.5 212.0 330.0Z" fill="#C8E6FF"/>
<path d="M256.0 314.0C257.0 312.5 260.3 309.8 262.0 310.0C263.7 310.2 266.2 313.3 266.0 315.0C265.8 316.7 262.7 319.3 261.0 320.0C259.3 320.7 256.8 320.0 256.0 319.0C255.2 318.0 255.0 315.5 256.0 314.0Z" fill="#C8E6FF"/>
<path d="M530.0 382.0C531.7 379.0 536.7 378.3 540.0 378.0C543.3 377.7 547.0 379.0 550.0 380.0C553.0 381.0 557.0 382.0 558.0 384.0C559.0 386.0 557.7 389.7 556.0 392.0C554.3 394.3 551.0 396.7 548.0 398.0C545.0 399.3 541.0 400.3 538.0 400.0C535.0 399.7 531.3 399.0 530.0 396.0C528.7 393.0 528.3 385.0 530.0 382.0Z" fill="#FFFFFF"/>
<path d="M385.0 525.0C386.7 522.5 391.7 520.5 395.0 520.0C398.3 519.5 402.8 519.5 405.0 522.0C407.2 524.5 407.5 530.3 408.0 535.0C408.5 539.7 409.3 547.2 408.0 550.0C406.7 552.8 403.0 552.8 400.0 552.0C397.0 551.2 392.5 547.8 390.0 545.0C387.5 542.2 385.8 538.3 385.0 535.0C384.2 531.7 383.3 527.5 385.0 525.0Z" fill="#FFFFFF"/>
<path d="M425.0 520.0C426.7 518.7 431.7 518.0 435.0 518.0C438.3 518.0 443.7 518.5 445.0 520.0C446.3 521.5 445.2 525.7 443.0 527.0C440.8 528.3 435.0 528.2 432.0 528.0C429.0 527.8 426.2 527.3 425.0 526.0C423.8 524.7 423.3 521.3 425.0 520.0Z" fill="#FFFFFF"/>
<path d="M396.0 497.0C397.5 495.5 401.8 494.2 405.0 494.0C408.2 493.8 411.7 495.5 415.0 496.0C418.3 496.5 422.2 496.3 425.0 497.0C427.8 497.7 431.5 498.3 432.0 500.0C432.5 501.7 430.3 505.5 428.0 507.0C425.7 508.5 421.3 508.5 418.0 509.0C414.7 509.5 411.0 510.2 408.0 510.0C405.0 509.8 402.0 509.2 400.0 508.0C398.0 506.8 396.7 504.8 396.0 503.0C395.3 501.2 394.5 498.5 396.0 497.0Z" fill="#FFFFFF"/>
<path d="M438.0 473.0C439.0 471.3 442.5 470.5 444.0 471.0C445.5 471.5 447.2 474.2 447.0 476.0C446.8 477.8 444.5 481.2 443.0 482.0C441.5 482.8 438.8 482.5 438.0 481.0C437.2 479.5 437.0 474.7 438.0 473.0Z" fill="#FFFFFF"/>
<path d="M150.0 545.0C151.0 539.7 154.2 544.8 156.0 546.0C157.8 547.2 159.7 549.3 161.0 552.0C162.3 554.7 163.0 558.2 164.0 562.0C165.0 565.8 166.0 571.0 167.0 575.0C168.0 579.0 170.0 583.3 170.0 586.0C170.0 588.7 168.5 590.7 167.0 591.0C165.5 591.3 163.0 589.5 161.0 588.0C159.0 586.5 156.8 583.7 155.0 582.0C153.2 580.3 150.8 584.2 150.0 578.0C149.2 571.8 149.0 550.3 150.0 545.0Z" fill="#FFFFFF"/>
<path d="M155.0 562.0C155.8 561.2 157.8 561.7 159.0 563.0C160.2 564.3 161.2 567.3 162.0 570.0C162.8 572.7 164.2 577.2 164.0 579.0C163.8 580.8 162.2 581.7 161.0 581.0C159.8 580.3 158.2 577.2 157.0 575.0C155.8 572.8 154.3 570.2 154.0 568.0C153.7 565.8 154.2 562.8 155.0 562.0Z" fill="#C8E6FF"/>
<path d="M180.0 462.0C180.3 460.5 185.0 458.2 188.0 457.0C191.0 455.8 194.7 455.8 198.0 455.0C201.3 454.2 205.0 452.8 208.0 452.0C211.0 451.2 214.2 449.7 216.0 450.0C217.8 450.3 219.7 452.5 219.0 454.0C218.3 455.5 214.5 457.7 212.0 459.0C209.5 460.3 206.7 461.0 204.0 462.0C201.3 463.0 199.0 464.3 196.0 465.0C193.0 465.7 188.7 466.5 186.0 466.0C183.3 465.5 179.7 463.5 180.0 462.0Z" fill="#FFFFFF"/>
<path d="M768.0 522.0C769.3 520.0 774.3 516.7 778.0 514.0C781.7 511.3 786.3 508.5 790.0 506.0C793.7 503.5 795.8 501.3 800.0 499.0C804.2 496.7 810.0 494.2 815.0 492.0C820.0 489.8 825.5 486.0 830.0 486.0C834.5 486.0 837.7 489.7 842.0 492.0C846.3 494.3 855.0 497.3 856.0 500.0C857.0 502.7 851.5 507.2 848.0 508.0C844.5 508.8 839.7 505.7 835.0 505.0C830.3 504.3 824.8 503.3 820.0 504.0C815.2 504.7 810.7 507.0 806.0 509.0C801.3 511.0 796.3 513.8 792.0 516.0C787.7 518.2 783.7 520.3 780.0 522.0C776.3 523.7 772.0 526.0 770.0 526.0C768.0 526.0 766.7 524.0 768.0 522.0Z" fill="#FFFFFF"/>
<path d="M782.0 512.0C782.7 510.3 788.7 508.0 792.0 506.0C795.3 504.0 798.7 501.5 802.0 500.0C805.3 498.5 809.3 497.0 812.0 497.0C814.7 497.0 818.7 498.7 818.0 500.0C817.3 501.3 811.3 503.3 808.0 505.0C804.7 506.7 801.3 508.2 798.0 510.0C794.7 511.8 790.7 515.7 788.0 516.0C785.3 516.3 781.3 513.7 782.0 512.0Z" fill="#C8E6FF"/>
<path d="M790.0 505.0C790.2 503.8 794.3 501.2 796.0 501.0C797.7 500.8 800.2 502.8 800.0 504.0C799.8 505.2 796.7 507.8 795.0 508.0C793.3 508.2 789.8 506.2 790.0 505.0Z" fill="#3399FF"/>
<path d="M779.0 514.0C779.2 513.0 781.8 511.0 783.0 511.0C784.2 511.0 786.2 513.0 786.0 514.0C785.8 515.0 783.2 517.0 782.0 517.0C780.8 517.0 778.8 515.0 779.0 514.0Z" fill="#3399FF"/>
<path d="M885.0 462.0C885.8 459.7 891.7 459.2 895.0 458.0C898.3 456.8 901.7 455.0 905.0 455.0C908.3 455.0 911.7 456.8 915.0 458.0C918.3 459.2 922.5 460.0 925.0 462.0C927.5 464.0 930.0 467.3 930.0 470.0C930.0 472.7 928.0 476.3 925.0 478.0C922.0 479.7 916.2 480.2 912.0 480.0C907.8 479.8 903.7 478.3 900.0 477.0C896.3 475.7 892.5 474.5 890.0 472.0C887.5 469.5 884.2 464.3 885.0 462.0Z" fill="#FFFFC8"/>
<path d="M772.0 470.0C773.3 468.0 777.0 466.3 780.0 466.0C783.0 465.7 786.7 467.0 790.0 468.0C793.3 469.0 797.3 470.3 800.0 472.0C802.7 473.7 806.0 476.0 806.0 478.0C806.0 480.0 802.7 482.7 800.0 484.0C797.3 485.3 793.3 486.0 790.0 486.0C786.7 486.0 783.0 485.3 780.0 484.0C777.0 482.7 773.3 480.3 772.0 478.0C770.7 475.7 770.7 472.0 772.0 470.0Z" fill="#FFFFFF"/>
<path d="M770.0 490.0C771.7 488.7 776.7 487.7 780.0 488.0C783.3 488.3 789.0 490.3 790.0 492.0C791.0 493.7 788.3 496.7 786.0 498.0C783.7 499.3 778.7 500.3 776.0 500.0C773.3 499.7 771.0 497.7 770.0 496.0C769.0 494.3 768.3 491.3 770.0 490.0Z" fill="#FFFFFF"/>
<path d="M765.0 458.0C765.7 456.3 769.0 458.3 770.0 460.0C771.0 461.7 771.7 466.3 771.0 468.0C770.3 469.7 767.0 471.7 766.0 470.0C765.0 468.3 764.3 459.7 765.0 458.0Z" fill="#C8E6FF"/>
<path d="M910.0 710.0C907.0 708.0 918.3 701.3 922.0 698.0C925.7 694.7 929.0 692.2 932.0 690.0C935.0 687.8 938.7 681.7 940.0 685.0C941.3 688.3 945.0 705.8 940.0 710.0C935.0 714.2 913.0 712.0 910.0 710.0Z" fill="#FFFFFF"/>
<path d="M916.0 710.0C913.7 708.2 923.0 701.8 926.0 699.0C929.0 696.2 931.7 694.7 934.0 693.0C936.3 691.3 939.0 686.2 940.0 689.0C941.0 691.8 944.0 706.5 940.0 710.0C936.0 713.5 918.3 711.8 916.0 710.0Z" fill="#C8E6FF"/>
<path d="M922.0 710.0C920.3 708.3 927.7 702.5 930.0 700.0C932.3 697.5 934.3 696.3 936.0 695.0C937.7 693.7 939.3 689.5 940.0 692.0C940.7 694.5 943.0 707.0 940.0 710.0C937.0 713.0 923.7 711.7 922.0 710.0Z" fill="#3399FF"/>
<path d="M928.0 710.0C927.0 708.7 932.0 704.2 934.0 702.0C936.0 699.8 939.0 695.7 940.0 697.0C941.0 698.3 942.0 707.8 940.0 710.0C938.0 712.2 929.0 711.3 928.0 710.0Z" fill="#003399"/>
<path d="M549.0 688.0C549.5 685.7 552.8 684.3 555.0 684.0C557.2 683.7 561.2 684.3 562.0 686.0C562.8 687.7 561.7 692.0 560.0 694.0C558.3 696.0 553.8 699.0 552.0 698.0C550.2 697.0 548.5 690.3 549.0 688.0Z" fill="#FFFFFF"/>
<path d="M552.0 690.0C552.2 688.7 555.7 687.0 557.0 687.0C558.3 687.0 560.2 688.7 560.0 690.0C559.8 691.3 557.3 695.0 556.0 695.0C554.7 695.0 551.8 691.3 552.0 690.0Z" fill="#C8E6FF"/>
<path d="M183.0 410.0C183.3 409.3 185.2 410.7 186.0 412.0C186.8 413.3 187.3 416.2 188.0 418.0C188.7 419.8 190.2 422.3 190.0 423.0C189.8 423.7 188.0 423.2 187.0 422.0C186.0 420.8 184.7 418.0 184.0 416.0C183.3 414.0 182.7 410.7 183.0 410.0Z" fill="#FFFFFF"/>
<path d="M545.0 700.0C545.0 696.8 555.3 672.9 560.0 668.0C564.7 663.1 574.7 664.5 580.0 663.0C585.3 661.5 594.0 658.7 600.0 657.0C606.0 655.3 619.7 651.5 625.0 650.0C630.3 648.5 636.0 646.3 640.0 646.0C644.0 645.7 651.3 647.2 655.0 648.0C658.7 648.8 664.7 652.4 668.0 652.0C671.3 651.6 677.7 647.0 680.0 645.0C682.3 643.0 684.7 639.4 685.0 637.0C685.3 634.6 683.3 629.3 682.0 627.0C680.7 624.7 677.3 621.3 675.0 620.0C672.7 618.7 666.7 617.8 665.0 617.0C663.3 616.2 661.3 614.9 662.0 614.0C662.7 613.1 668.7 611.2 670.0 610.0C671.3 608.8 673.3 605.7 672.0 605.0C670.7 604.3 663.6 604.7 660.0 605.0C656.4 605.3 648.1 606.1 645.0 607.0C641.9 607.9 639.0 610.3 637.0 612.0C635.0 613.7 632.0 618.3 630.0 620.0C628.0 621.7 624.0 624.7 622.0 625.0C620.0 625.3 616.3 623.5 615.0 622.0C613.7 620.5 612.3 616.1 612.0 614.0C611.7 611.9 613.0 607.5 613.0 606.0C613.0 604.5 611.6 604.1 612.0 603.0C612.4 601.9 613.6 599.2 616.0 598.0C618.4 596.8 626.1 594.9 630.0 594.0C633.9 593.1 641.0 592.1 645.0 591.0C649.0 589.9 656.0 587.3 660.0 586.0C664.0 584.7 671.0 582.1 675.0 581.0C679.0 579.9 686.0 578.4 690.0 578.0C694.0 577.6 701.0 578.4 705.0 578.0C709.0 577.6 716.9 576.1 720.0 575.0C723.1 573.9 725.3 571.3 728.0 570.0C730.7 568.7 735.1 566.2 740.0 565.0C744.9 563.8 760.2 561.3 765.0 561.0C769.8 560.7 773.2 563.8 776.0 563.0C778.8 562.2 782.8 557.3 786.0 555.0C789.2 552.7 796.1 548.0 800.0 546.0C803.9 544.0 811.0 541.6 815.0 540.0C819.0 538.4 826.0 535.6 830.0 534.0C834.0 532.4 841.7 529.7 845.0 528.0C848.3 526.3 853.4 523.0 855.0 521.0C856.6 519.0 855.7 515.0 857.0 513.0C858.3 511.0 861.9 506.8 865.0 506.0C868.1 505.2 875.3 507.1 880.0 507.0C884.7 506.9 894.7 505.3 900.0 505.0C905.3 504.7 914.7 504.6 920.0 505.0C925.3 505.4 937.3 503.6 940.0 508.0C942.7 512.4 941.7 533.3 940.0 538.0C938.3 542.7 929.9 541.1 927.0 543.0C924.1 544.9 920.7 549.5 918.0 552.0C915.3 554.5 909.9 560.3 907.0 562.0C904.1 563.7 899.5 564.2 896.0 565.0C892.5 565.8 885.0 566.9 881.0 568.0C877.0 569.1 870.0 571.9 866.0 573.0C862.0 574.1 855.0 574.8 851.0 576.0C847.0 577.2 839.3 580.3 836.0 582.0C832.7 583.7 828.7 587.4 826.0 589.0C823.3 590.6 818.7 592.8 816.0 594.0C813.3 595.2 808.0 596.8 806.0 598.0C804.0 599.2 802.3 601.0 801.0 603.0C799.7 605.0 798.0 610.6 796.0 613.0C794.0 615.4 788.7 619.0 786.0 621.0C783.3 623.0 778.7 626.1 776.0 628.0C773.3 629.9 769.3 632.7 766.0 635.0C762.7 637.3 754.3 642.7 751.0 645.0C747.7 647.3 743.7 650.1 741.0 652.0C738.3 653.9 732.7 657.1 731.0 659.0C729.3 660.9 728.0 663.7 728.0 666.0C728.0 668.3 729.9 672.8 731.0 676.0C732.1 679.2 735.1 685.5 736.0 690.0C736.9 694.5 754.4 707.3 738.0 710.0C721.6 712.7 629.9 711.6 613.0 710.0C596.1 708.4 612.7 700.5 611.0 698.0C609.3 695.5 604.1 692.1 600.0 691.0C595.9 689.9 585.3 689.9 580.0 690.0C574.7 690.1 564.7 690.7 560.0 692.0C555.3 693.3 545.0 703.2 545.0 700.0Z" fill="#FFFFFF"/>
<path d="M566.0 673.0C567.9 670.5 575.5 668.6 580.0 667.0C584.5 665.4 594.0 662.7 600.0 661.0C606.0 659.3 619.0 655.3 625.0 654.0C631.0 652.7 640.6 650.9 645.0 651.0C649.4 651.1 654.7 654.6 658.0 655.0C661.3 655.4 666.5 655.7 670.0 654.0C673.5 652.3 681.3 644.7 684.0 642.0C686.7 639.3 688.1 636.1 690.0 634.0C691.9 631.9 698.0 628.1 698.0 626.0C698.0 623.9 692.4 619.9 690.0 618.0C687.6 616.1 680.8 613.9 680.0 612.0C679.2 610.1 684.7 605.9 684.0 604.0C683.3 602.1 678.2 598.5 675.0 598.0C671.8 597.5 663.6 599.7 660.0 600.0C656.4 600.3 651.2 599.5 648.0 600.0C644.8 600.5 638.9 602.7 636.0 604.0C633.1 605.3 628.1 609.7 626.0 610.0C623.9 610.3 619.7 607.6 620.0 606.0C620.3 604.4 624.7 599.5 628.0 598.0C631.3 596.5 640.7 596.1 645.0 595.0C649.3 593.9 656.0 591.3 660.0 590.0C664.0 588.7 671.0 586.1 675.0 585.0C679.0 583.9 686.0 582.4 690.0 582.0C694.0 581.6 701.0 582.4 705.0 582.0C709.0 581.6 716.7 580.1 720.0 579.0C723.3 577.9 727.1 575.3 730.0 574.0C732.9 572.7 738.0 570.1 742.0 569.0C746.0 567.9 755.7 566.1 760.0 566.0C764.3 565.9 770.5 568.8 774.0 568.0C777.5 567.2 782.5 562.3 786.0 560.0C789.5 557.7 796.1 553.0 800.0 551.0C803.9 549.0 811.0 546.5 815.0 545.0C819.0 543.5 826.0 541.5 830.0 540.0C834.0 538.5 841.4 535.7 845.0 534.0C848.6 532.3 855.0 529.3 857.0 527.0C859.0 524.7 858.5 519.3 860.0 517.0C861.5 514.7 864.7 510.8 868.0 510.0C871.3 509.2 880.1 511.1 885.0 511.0C889.9 510.9 899.7 509.1 905.0 509.0C910.3 508.9 920.3 509.5 925.0 510.0C929.7 510.5 938.0 509.7 940.0 513.0C942.0 516.3 942.0 531.4 940.0 535.0C938.0 538.6 928.3 538.0 925.0 540.0C921.7 542.0 917.7 547.5 915.0 550.0C912.3 552.5 907.8 557.4 905.0 559.0C902.2 560.6 897.5 561.2 894.0 562.0C890.5 562.8 883.0 563.9 879.0 565.0C875.0 566.1 868.0 568.9 864.0 570.0C860.0 571.1 853.0 571.8 849.0 573.0C845.0 574.2 837.3 577.3 834.0 579.0C830.7 580.7 826.7 584.4 824.0 586.0C821.3 587.6 816.7 589.8 814.0 591.0C811.3 592.2 806.1 593.7 804.0 595.0C801.9 596.3 799.5 599.0 798.0 601.0C796.5 603.0 794.9 607.7 793.0 610.0C791.1 612.3 786.5 616.0 784.0 618.0C781.5 620.0 776.7 623.1 774.0 625.0C771.3 626.9 767.3 629.7 764.0 632.0C760.7 634.3 752.3 639.7 749.0 642.0C745.7 644.3 741.7 647.1 739.0 649.0C736.3 650.9 730.9 653.7 729.0 656.0C727.1 658.3 725.1 663.3 725.0 666.0C724.9 668.7 726.9 672.5 728.0 676.0C729.1 679.5 732.2 687.5 733.0 692.0C733.8 696.5 749.1 707.6 734.0 710.0C718.9 712.4 635.6 711.3 620.0 710.0C604.4 708.7 618.9 702.3 617.0 700.0C615.1 697.7 610.3 694.9 606.0 693.0C601.7 691.1 590.3 686.9 585.0 686.0C579.7 685.1 568.5 687.7 566.0 686.0C563.5 684.3 564.1 675.5 566.0 673.0Z" fill="#C8E6FF"/>
<path d="M800.0 529.0C802.8 527.0 810.0 525.8 815.0 525.0C820.0 524.2 825.0 524.0 830.0 524.0C835.0 524.0 840.0 524.5 845.0 525.0C850.0 525.5 855.5 526.0 860.0 527.0C864.5 528.0 868.7 529.7 872.0 531.0C875.3 532.3 879.0 533.3 880.0 535.0C881.0 536.7 879.7 539.2 878.0 541.0C876.3 542.8 873.0 544.5 870.0 546.0C867.0 547.5 863.3 549.3 860.0 550.0C856.7 550.7 853.3 550.7 850.0 550.0C846.7 549.3 843.3 547.5 840.0 546.0C836.7 544.5 833.7 542.0 830.0 541.0C826.3 540.0 822.0 540.0 818.0 540.0C814.0 540.0 809.3 541.5 806.0 541.0C802.7 540.5 799.0 539.0 798.0 537.0C797.0 535.0 797.2 531.0 800.0 529.0Z" fill="#FFFFC8"/>
<path d="M626.0 628.0C627.3 626.4 630.1 623.9 632.0 622.0C633.9 620.1 637.6 615.6 640.0 614.0C642.4 612.4 647.3 610.8 650.0 610.0C652.7 609.2 657.6 608.4 660.0 608.0C662.4 607.6 666.9 606.7 668.0 607.0C669.1 607.3 668.8 609.2 668.0 610.0C667.2 610.8 662.8 612.1 662.0 613.0C661.2 613.9 661.2 616.3 662.0 617.0C662.8 617.7 666.3 617.3 668.0 618.0C669.7 618.7 673.4 620.7 675.0 622.0C676.6 623.3 678.9 626.1 680.0 628.0C681.1 629.9 683.0 633.7 683.0 636.0C683.0 638.3 681.5 643.0 680.0 645.0C678.5 647.0 674.7 649.8 672.0 651.0C669.3 652.2 663.2 654.1 660.0 654.0C656.8 653.9 651.2 651.1 648.0 650.0C644.8 648.9 638.7 647.3 636.0 646.0C633.3 644.7 629.9 641.6 628.0 640.0C626.1 638.4 622.3 635.6 622.0 634.0C621.7 632.4 624.7 629.6 626.0 628.0Z" fill="#FFFFC8"/>
<path d="M616.0 608.0C617.3 606.3 619.3 605.2 622.0 604.0C624.7 602.8 628.7 601.2 632.0 601.0C635.3 600.8 640.7 601.7 642.0 603.0C643.3 604.3 641.3 607.2 640.0 609.0C638.7 610.8 636.0 612.2 634.0 614.0C632.0 615.8 630.0 618.5 628.0 620.0C626.0 621.5 623.8 623.0 622.0 623.0C620.2 623.0 618.3 621.5 617.0 620.0C615.7 618.5 614.2 616.0 614.0 614.0C613.8 612.0 614.7 609.7 616.0 608.0Z" fill="#C8E6FF"/>
<path d="M622.0 611.0C622.5 609.7 626.0 607.8 628.0 607.0C630.0 606.2 633.5 605.3 634.0 606.0C634.5 606.7 632.5 609.5 631.0 611.0C629.5 612.5 626.5 615.0 625.0 615.0C623.5 615.0 621.5 612.3 622.0 611.0Z" fill="#3399FF"/>
<path d="M726.0 574.0C728.0 571.5 733.7 570.0 738.0 569.0C742.3 568.0 747.3 568.2 752.0 568.0C756.7 567.8 761.7 567.7 766.0 568.0C770.3 568.3 775.7 568.3 778.0 570.0C780.3 571.7 781.0 575.3 780.0 578.0C779.0 580.7 775.7 584.0 772.0 586.0C768.3 588.0 762.7 589.0 758.0 590.0C753.3 591.0 748.3 592.0 744.0 592.0C739.7 592.0 735.0 591.3 732.0 590.0C729.0 588.7 727.0 586.7 726.0 584.0C725.0 581.3 724.0 576.5 726.0 574.0Z" fill="#FFFFFF"/>
<path d="M732.0 577.0C733.8 575.5 738.0 573.8 742.0 573.0C746.0 572.2 751.7 572.0 756.0 572.0C760.3 572.0 765.0 572.2 768.0 573.0C771.0 573.8 774.0 575.3 774.0 577.0C774.0 578.7 771.0 581.5 768.0 583.0C765.0 584.5 760.0 585.2 756.0 586.0C752.0 586.8 747.5 588.0 744.0 588.0C740.5 588.0 737.2 587.0 735.0 586.0C732.8 585.0 731.5 583.5 731.0 582.0C730.5 580.5 730.2 578.5 732.0 577.0Z" fill="#FFFFC8"/>
<path d="M712.0 652.0C713.7 648.0 718.7 648.0 722.0 648.0C725.3 648.0 729.7 650.0 732.0 652.0C734.3 654.0 736.0 657.3 736.0 660.0C736.0 662.7 733.7 665.3 732.0 668.0C730.3 670.7 726.3 673.0 726.0 676.0C725.7 679.0 728.7 682.3 730.0 686.0C731.3 689.7 733.0 694.0 734.0 698.0C735.0 702.0 741.7 708.0 736.0 710.0C730.3 712.0 705.0 713.3 700.0 710.0C695.0 706.7 704.0 696.3 706.0 690.0C708.0 683.7 711.0 678.3 712.0 672.0C713.0 665.7 710.3 656.0 712.0 652.0Z" fill="#FFFFFF"/>
<path d="M738.0 661.0C740.2 660.0 743.0 661.2 746.0 662.0C749.0 662.8 752.3 664.8 756.0 666.0C759.7 667.2 764.0 665.3 768.0 669.0C772.0 672.7 776.3 683.2 780.0 688.0C783.7 692.8 786.7 694.3 790.0 698.0C793.3 701.7 804.7 708.0 800.0 710.0C795.3 712.0 769.3 712.7 762.0 710.0C754.7 707.3 758.7 697.8 756.0 694.0C753.3 690.2 749.3 689.7 746.0 687.0C742.7 684.3 738.2 681.2 736.0 678.0C733.8 674.8 732.7 670.8 733.0 668.0C733.3 665.2 735.8 662.0 738.0 661.0Z" fill="#FFFFC8"/>
<path d="M640.0 598.0C642.5 596.5 650.0 595.0 655.0 594.0C660.0 593.0 668.8 591.3 670.0 592.0C671.2 592.7 665.3 596.3 662.0 598.0C658.7 599.7 653.7 601.2 650.0 602.0C646.3 602.8 641.7 603.7 640.0 603.0C638.3 602.3 637.5 599.5 640.0 598.0Z" fill="#FFFFFF"/>
<path d="M680.0 606.0C682.2 604.0 690.0 601.5 695.0 600.0C700.0 598.5 705.0 598.0 710.0 597.0C715.0 596.0 720.0 594.8 725.0 594.0C730.0 593.2 735.5 592.3 740.0 592.0C744.5 591.7 751.0 591.0 752.0 592.0C753.0 593.0 749.3 596.3 746.0 598.0C742.7 599.7 736.7 600.7 732.0 602.0C727.3 603.3 722.7 604.7 718.0 606.0C713.3 607.3 708.3 609.0 704.0 610.0C699.7 611.0 695.7 611.7 692.0 612.0C688.3 612.3 684.0 613.0 682.0 612.0C680.0 611.0 677.8 608.0 680.0 606.0Z" fill="#FFFFFF"/>
<path d="M690.0 622.0C692.0 620.2 699.3 618.5 704.0 617.0C708.7 615.5 713.3 614.5 718.0 613.0C722.7 611.5 727.7 609.8 732.0 608.0C736.3 606.2 742.3 601.7 744.0 602.0C745.7 602.3 744.3 607.7 742.0 610.0C739.7 612.3 734.3 614.0 730.0 616.0C725.7 618.0 720.7 620.2 716.0 622.0C711.3 623.8 706.0 626.0 702.0 627.0C698.0 628.0 694.0 628.8 692.0 628.0C690.0 627.2 688.0 623.8 690.0 622.0Z" fill="#FFFFFF"/>
<path d="M682.0 652.0C683.0 649.0 687.3 645.0 690.0 642.0C692.7 639.0 695.3 636.0 698.0 634.0C700.7 632.0 704.0 629.7 706.0 630.0C708.0 630.3 710.3 633.7 710.0 636.0C709.7 638.3 706.0 641.3 704.0 644.0C702.0 646.7 700.0 649.3 698.0 652.0C696.0 654.7 694.3 658.7 692.0 660.0C689.7 661.3 685.7 661.3 684.0 660.0C682.3 658.7 681.0 655.0 682.0 652.0Z" fill="#FFFFFF"/>
<path d="M776.0 545.0C779.0 542.0 785.0 539.8 790.0 538.0C795.0 536.2 800.7 535.2 806.0 534.0C811.3 532.8 816.7 531.7 822.0 531.0C827.3 530.3 836.7 528.8 838.0 530.0C839.3 531.2 833.8 535.8 830.0 538.0C826.2 540.2 820.0 541.2 815.0 543.0C810.0 544.8 804.5 546.8 800.0 549.0C795.5 551.2 791.7 554.2 788.0 556.0C784.3 557.8 780.7 560.0 778.0 560.0C775.3 560.0 772.3 558.5 772.0 556.0C771.7 553.5 773.0 548.0 776.0 545.0Z" fill="#FFFFFF"/>
<path d="M790.0 512.0C793.0 510.0 800.7 507.7 806.0 506.0C811.3 504.3 816.7 503.0 822.0 502.0C827.3 501.0 833.3 499.7 838.0 500.0C842.7 500.3 846.0 502.7 850.0 504.0C854.0 505.3 858.7 506.7 862.0 508.0C865.3 509.3 870.3 510.3 870.0 512.0C869.7 513.7 863.7 516.7 860.0 518.0C856.3 519.3 852.2 520.0 848.0 520.0C843.8 520.0 839.7 518.5 835.0 518.0C830.3 517.5 824.8 516.7 820.0 517.0C815.2 517.3 810.2 519.2 806.0 520.0C801.8 520.8 798.0 522.3 795.0 522.0C792.0 521.7 788.8 519.7 788.0 518.0C787.2 516.3 787.0 514.0 790.0 512.0Z" fill="#FFFFFF"/>
<path d="M652.0 600.0C653.0 598.5 656.7 596.3 660.0 595.0C663.3 593.7 668.0 593.0 672.0 592.0C676.0 591.0 680.3 589.7 684.0 589.0C687.7 588.3 693.0 587.2 694.0 588.0C695.0 588.8 692.3 592.5 690.0 594.0C687.7 595.5 683.3 596.0 680.0 597.0C676.7 598.0 673.3 598.8 670.0 600.0C666.7 601.2 662.7 603.3 660.0 604.0C657.3 604.7 655.3 604.7 654.0 604.0C652.7 603.3 651.0 601.5 652.0 600.0Z" fill="#3399FF"/>
<path d="M698.0 590.0C699.0 588.8 705.0 587.5 708.0 587.0C711.0 586.5 715.3 586.2 716.0 587.0C716.7 587.8 714.3 590.8 712.0 592.0C709.7 593.2 704.3 594.3 702.0 594.0C699.7 593.7 697.0 591.2 698.0 590.0Z" fill="#3399FF"/>
<path d="M640.0 604.0C641.3 602.8 646.0 601.0 648.0 601.0C650.0 601.0 652.3 602.8 652.0 604.0C651.7 605.2 648.0 607.3 646.0 608.0C644.0 608.7 641.0 608.7 640.0 608.0C639.0 607.3 638.7 605.2 640.0 604.0Z" fill="#3399FF"/>
<path d="M700.0 604.0C701.3 602.7 707.3 600.3 710.0 600.0C712.7 599.7 716.0 600.7 716.0 602.0C716.0 603.3 712.3 607.0 710.0 608.0C707.7 609.0 703.7 608.7 702.0 608.0C700.3 607.3 698.7 605.3 700.0 604.0Z" fill="#3399FF"/>
<path d="M722.0 596.0C723.3 595.0 728.0 593.7 730.0 594.0C732.0 594.3 734.3 596.7 734.0 598.0C733.7 599.3 730.0 601.7 728.0 602.0C726.0 602.3 723.0 601.0 722.0 600.0C721.0 599.0 720.7 597.0 722.0 596.0Z" fill="#3399FF"/>
<path d="M696.0 622.0C697.3 621.0 702.0 619.7 704.0 620.0C706.0 620.3 708.3 622.7 708.0 624.0C707.7 625.3 704.0 627.7 702.0 628.0C700.0 628.3 697.0 627.0 696.0 626.0C695.0 625.0 694.7 623.0 696.0 622.0Z" fill="#3399FF"/>
<path d="M733.0 570.0C734.0 568.5 738.8 566.3 742.0 565.0C745.2 563.7 748.2 562.7 752.0 562.0C755.8 561.3 760.7 561.0 765.0 561.0C769.3 561.0 774.2 561.2 778.0 562.0C781.8 562.8 787.7 564.8 788.0 566.0C788.3 567.2 783.3 568.7 780.0 569.0C776.7 569.3 772.0 568.0 768.0 568.0C764.0 568.0 759.8 568.3 756.0 569.0C752.2 569.7 748.3 571.2 745.0 572.0C741.7 572.8 738.0 574.3 736.0 574.0C734.0 573.7 732.0 571.5 733.0 570.0Z" fill="#3399FF"/>
<path d="M575.0 674.0C578.0 672.3 585.0 671.5 590.0 670.0C595.0 668.5 600.0 666.7 605.0 665.0C610.0 663.3 615.0 661.3 620.0 660.0C625.0 658.7 630.0 657.3 635.0 657.0C640.0 656.7 645.5 657.5 650.0 658.0C654.5 658.5 661.0 658.7 662.0 660.0C663.0 661.3 659.7 664.7 656.0 666.0C652.3 667.3 645.2 667.0 640.0 668.0C634.8 669.0 630.0 670.8 625.0 672.0C620.0 673.2 615.0 674.0 610.0 675.0C605.0 676.0 600.0 677.2 595.0 678.0C590.0 678.8 583.8 679.7 580.0 680.0C576.2 680.3 572.8 681.0 572.0 680.0C571.2 679.0 572.0 675.7 575.0 674.0Z" fill="#3399FF"/>
<path d="M600.0 670.0C601.3 669.0 607.0 667.3 610.0 667.0C613.0 666.7 617.7 667.2 618.0 668.0C618.3 668.8 614.7 671.2 612.0 672.0C609.3 672.8 604.0 673.3 602.0 673.0C600.0 672.7 598.7 671.0 600.0 670.0Z" fill="#C8E6FF"/>
<path d="M697.0 637.0C697.1 634.6 702.6 632.6 705.0 631.0C707.4 629.4 712.2 626.5 715.0 625.0C717.8 623.5 723.6 620.9 726.0 620.0C728.4 619.1 731.8 617.5 733.0 618.0C734.2 618.5 734.1 624.3 735.0 624.0C735.9 623.7 738.8 618.7 740.0 616.0C741.2 613.3 743.7 606.4 744.0 604.0C744.3 601.6 740.9 599.9 742.0 598.0C743.1 596.1 748.9 592.0 752.0 590.0C755.1 588.0 761.3 584.7 765.0 583.0C768.7 581.3 776.0 578.3 780.0 577.0C784.0 575.7 791.0 573.9 795.0 573.0C799.0 572.1 805.3 571.1 810.0 570.0C814.7 568.9 824.7 566.3 830.0 565.0C835.3 563.7 844.9 561.6 850.0 560.0C855.1 558.4 864.3 555.0 868.0 553.0C871.7 551.0 875.9 547.4 878.0 545.0C880.1 542.6 882.5 537.7 884.0 535.0C885.5 532.3 887.4 527.4 889.0 525.0C890.6 522.6 893.9 518.7 896.0 517.0C898.1 515.3 901.8 512.8 905.0 512.0C908.2 511.2 915.3 510.7 920.0 511.0C924.7 511.3 937.3 510.9 940.0 514.0C942.7 517.1 942.0 530.5 940.0 534.0C938.0 537.5 928.2 538.1 925.0 540.0C921.8 541.9 917.7 546.0 916.0 548.0C914.3 550.0 914.8 553.4 912.0 555.0C909.2 556.6 899.3 558.9 895.0 560.0C890.7 561.1 884.0 561.9 880.0 563.0C876.0 564.1 869.0 566.8 865.0 568.0C861.0 569.2 854.0 570.7 850.0 572.0C846.0 573.3 838.3 576.3 835.0 578.0C831.7 579.7 827.7 583.3 825.0 585.0C822.3 586.7 817.7 589.9 815.0 591.0C812.3 592.1 807.7 592.1 805.0 593.0C802.3 593.9 798.3 595.5 795.0 598.0C791.7 600.5 784.0 608.8 780.0 612.0C776.0 615.2 768.7 619.5 765.0 622.0C761.3 624.5 755.3 628.7 752.0 631.0C748.7 633.3 743.3 637.0 740.0 639.0C736.7 641.0 730.3 644.4 727.0 646.0C723.7 647.6 718.1 650.6 715.0 651.0C711.9 651.4 706.4 650.9 704.0 649.0C701.6 647.1 696.9 639.4 697.0 637.0Z" fill="#3399FF"/>
<path d="M857.0 517.0C857.8 515.2 860.8 512.2 864.0 511.0C867.2 509.8 871.7 509.8 876.0 510.0C880.3 510.2 886.0 512.0 890.0 512.0C894.0 512.0 897.3 510.0 900.0 510.0C902.7 510.0 906.3 510.7 906.0 512.0C905.7 513.3 900.5 515.7 898.0 518.0C895.5 520.3 893.2 523.7 891.0 526.0C888.8 528.3 887.5 531.3 885.0 532.0C882.5 532.7 879.2 531.0 876.0 530.0C872.8 529.0 868.8 527.3 866.0 526.0C863.2 524.7 860.5 523.5 859.0 522.0C857.5 520.5 856.2 518.8 857.0 517.0Z" fill="#3399FF"/>
<path d="M868.0 516.0C869.2 515.0 873.7 513.8 876.0 514.0C878.3 514.2 881.8 515.8 882.0 517.0C882.2 518.2 879.2 520.5 877.0 521.0C874.8 521.5 870.5 520.8 869.0 520.0C867.5 519.2 866.8 517.0 868.0 516.0Z" fill="#C8E6FF"/>
<path d="M872.0 540.0C873.5 537.8 880.3 536.3 884.0 536.0C887.7 535.7 892.0 536.3 894.0 538.0C896.0 539.7 897.3 543.8 896.0 546.0C894.7 548.2 889.5 550.5 886.0 551.0C882.5 551.5 877.3 550.8 875.0 549.0C872.7 547.2 870.5 542.2 872.0 540.0Z" fill="#C8E6FF"/>
<path d="M905.0 536.0C906.3 534.7 912.2 533.0 915.0 533.0C917.8 533.0 921.8 534.7 922.0 536.0C922.2 537.3 918.5 540.2 916.0 541.0C913.5 541.8 908.8 541.8 907.0 541.0C905.2 540.2 903.7 537.3 905.0 536.0Z" fill="#C8E6FF"/>
<path d="M848.0 563.0C849.7 561.8 855.3 560.0 858.0 560.0C860.7 560.0 864.3 561.8 864.0 563.0C863.7 564.2 858.7 566.3 856.0 567.0C853.3 567.7 849.3 567.7 848.0 567.0C846.7 566.3 846.3 564.2 848.0 563.0Z" fill="#C8E6FF"/>
<path d="M720.0 634.0C721.7 632.0 727.0 629.3 730.0 628.0C733.0 626.7 737.0 625.0 738.0 626.0C739.0 627.0 737.7 631.7 736.0 634.0C734.3 636.3 730.7 639.0 728.0 640.0C725.3 641.0 721.3 641.0 720.0 640.0C718.7 639.0 718.3 636.0 720.0 634.0Z" fill="#C8E6FF"/>
<path d="M752.0 616.0C753.3 614.7 758.0 612.0 760.0 612.0C762.0 612.0 764.3 614.5 764.0 616.0C763.7 617.5 760.0 620.3 758.0 621.0C756.0 621.7 753.0 620.8 752.0 620.0C751.0 619.2 750.7 617.3 752.0 616.0Z" fill="#C8E6FF"/>
<path d="M775.0 592.0C776.0 590.7 780.0 588.2 782.0 588.0C784.0 587.8 787.0 589.7 787.0 591.0C787.0 592.3 783.8 595.2 782.0 596.0C780.2 596.8 777.2 596.7 776.0 596.0C774.8 595.3 774.0 593.3 775.0 592.0Z" fill="#C8E6FF"/>
<path d="M800.0 585.0C801.3 583.8 806.0 581.8 808.0 582.0C810.0 582.2 812.3 584.7 812.0 586.0C811.7 587.3 808.0 589.5 806.0 590.0C804.0 590.5 801.0 589.8 800.0 589.0C799.0 588.2 798.7 586.2 800.0 585.0Z" fill="#C8E6FF"/>
<path d="M891.0 520.0C892.3 518.2 896.5 515.7 900.0 515.0C903.5 514.3 908.7 514.8 912.0 516.0C915.3 517.2 919.0 519.7 920.0 522.0C921.0 524.3 920.0 528.2 918.0 530.0C916.0 531.8 911.3 532.8 908.0 533.0C904.7 533.2 900.7 532.2 898.0 531.0C895.3 529.8 893.2 527.8 892.0 526.0C890.8 524.2 889.7 521.8 891.0 520.0Z" fill="#003399"/>
<path d="M922.0 514.0C923.7 512.8 929.3 512.5 932.0 513.0C934.7 513.5 937.3 515.2 938.0 517.0C938.7 518.8 937.7 522.5 936.0 524.0C934.3 525.5 930.3 526.7 928.0 526.0C925.7 525.3 923.0 522.0 922.0 520.0C921.0 518.0 920.3 515.2 922.0 514.0Z" fill="#003399"/>
<path d="M897.0 543.0C898.2 541.7 903.0 540.2 906.0 540.0C909.0 539.8 913.3 540.7 915.0 542.0C916.7 543.3 917.2 546.7 916.0 548.0C914.8 549.3 910.8 550.0 908.0 550.0C905.2 550.0 900.8 549.2 899.0 548.0C897.2 546.8 895.8 544.3 897.0 543.0Z" fill="#003399"/>
<path d="M880.0 552.0C881.3 550.8 886.0 548.8 888.0 549.0C890.0 549.2 892.3 551.7 892.0 553.0C891.7 554.3 888.0 556.5 886.0 557.0C884.0 557.5 881.0 556.8 880.0 556.0C879.0 555.2 878.7 553.2 880.0 552.0Z" fill="#003399"/>
<path d="M797.0 578.0C798.5 576.2 802.5 574.3 806.0 573.0C809.5 571.7 814.0 570.7 818.0 570.0C822.0 569.3 827.0 568.7 830.0 569.0C833.0 569.3 836.0 570.5 836.0 572.0C836.0 573.5 832.7 576.3 830.0 578.0C827.3 579.7 823.3 580.7 820.0 582.0C816.7 583.3 813.0 585.0 810.0 586.0C807.0 587.0 804.2 588.3 802.0 588.0C799.8 587.7 797.8 585.7 797.0 584.0C796.2 582.3 795.5 579.8 797.0 578.0Z" fill="#003399"/>
<path d="M766.0 590.0C767.5 588.2 771.2 586.0 774.0 585.0C776.8 584.0 780.3 583.7 783.0 584.0C785.7 584.3 789.5 585.3 790.0 587.0C790.5 588.7 788.0 592.0 786.0 594.0C784.0 596.0 780.7 598.0 778.0 599.0C775.3 600.0 772.2 600.5 770.0 600.0C767.8 599.5 765.7 597.7 765.0 596.0C764.3 594.3 764.5 591.8 766.0 590.0Z" fill="#003399"/>
<path d="M757.0 607.0C758.0 605.8 762.0 604.8 764.0 605.0C766.0 605.2 768.8 606.8 769.0 608.0C769.2 609.2 766.8 611.3 765.0 612.0C763.2 612.7 759.3 612.8 758.0 612.0C756.7 611.2 756.0 608.2 757.0 607.0Z" fill="#003399"/>
<path d="M752.0 616.0C752.8 614.8 756.0 614.7 758.0 615.0C760.0 615.3 763.7 616.8 764.0 618.0C764.3 619.2 761.8 621.3 760.0 622.0C758.2 622.7 754.3 623.0 753.0 622.0C751.7 621.0 751.2 617.2 752.0 616.0Z" fill="#003399"/>
<path d="M742.0 626.0C743.0 625.0 746.3 623.7 748.0 624.0C749.7 624.3 752.2 626.7 752.0 628.0C751.8 629.3 748.7 631.7 747.0 632.0C745.3 632.3 742.8 631.0 742.0 630.0C741.2 629.0 741.0 627.0 742.0 626.0Z" fill="#003399"/>
<path d="M840.0 566.0C841.2 564.8 845.8 563.0 848.0 563.0C850.2 563.0 853.0 564.8 853.0 566.0C853.0 567.2 850.0 569.3 848.0 570.0C846.0 570.7 842.3 570.7 841.0 570.0C839.7 569.3 838.8 567.2 840.0 566.0Z" fill="#003399"/>
<path d="M804.0 578.0C804.8 576.5 808.3 574.7 810.0 575.0C811.7 575.3 814.0 578.3 814.0 580.0C814.0 581.7 811.5 584.3 810.0 585.0C808.5 585.7 806.0 585.2 805.0 584.0C804.0 582.8 803.2 579.5 804.0 578.0Z" fill="#663399"/>
<path d="M633.0 710.0C616.8 707.3 635.0 698.8 637.0 694.0C639.0 689.2 641.7 684.8 645.0 681.0C648.3 677.2 652.5 673.5 657.0 671.0C661.5 668.5 666.5 667.2 672.0 666.0C677.5 664.8 684.3 663.8 690.0 664.0C695.7 664.2 701.5 665.2 706.0 667.0C710.5 668.8 713.7 671.8 717.0 675.0C720.3 678.2 723.7 682.3 726.0 686.0C728.3 689.7 729.7 693.0 731.0 697.0C732.3 701.0 750.3 707.8 734.0 710.0C717.7 712.2 649.2 712.7 633.0 710.0Z" fill="#3399FF"/>
<path d="M646.0 710.0C633.8 707.7 649.5 699.7 650.0 696.0C650.5 692.3 648.2 690.8 649.0 688.0C649.8 685.2 652.5 681.3 655.0 679.0C657.5 676.7 660.5 675.3 664.0 674.0C667.5 672.7 671.7 671.7 676.0 671.0C680.3 670.3 685.7 669.7 690.0 670.0C694.3 670.3 698.5 671.3 702.0 673.0C705.5 674.7 708.5 677.2 711.0 680.0C713.5 682.8 715.3 686.7 717.0 690.0C718.7 693.3 720.0 696.7 721.0 700.0C722.0 703.3 735.5 708.3 723.0 710.0C710.5 711.7 658.2 712.3 646.0 710.0Z" fill="#003399"/>
<path d="M688.0 673.0C688.8 671.8 693.7 671.5 696.0 672.0C698.3 672.5 701.7 674.5 702.0 676.0C702.3 677.5 699.8 680.5 698.0 681.0C696.2 681.5 692.7 680.3 691.0 679.0C689.3 677.7 687.2 674.2 688.0 673.0Z" fill="#3399FF"/>
<path d="M700.0 690.0C701.2 688.2 706.0 685.5 708.0 686.0C710.0 686.5 712.2 690.8 712.0 693.0C711.8 695.2 708.8 698.3 707.0 699.0C705.2 699.7 702.2 698.5 701.0 697.0C699.8 695.5 698.8 691.8 700.0 690.0Z" fill="#3399FF"/>
<path d="M662.0 684.0C662.8 682.7 666.3 680.0 668.0 680.0C669.7 680.0 672.0 682.5 672.0 684.0C672.0 685.5 669.5 688.3 668.0 689.0C666.5 689.7 664.0 688.8 663.0 688.0C662.0 687.2 661.2 685.3 662.0 684.0Z" fill="#3399FF"/>
<path d="M676.0 700.0C677.3 698.7 682.0 697.3 684.0 698.0C686.0 698.7 688.3 702.3 688.0 704.0C687.7 705.7 684.0 707.7 682.0 708.0C680.0 708.3 677.0 707.3 676.0 706.0C675.0 704.7 674.7 701.3 676.0 700.0Z" fill="#3399FF"/>
<path d="M708.0 696.0C708.5 694.7 711.8 693.5 713.0 694.0C714.2 694.5 715.5 697.7 715.0 699.0C714.5 700.3 711.2 702.5 710.0 702.0C708.8 701.5 707.5 697.3 708.0 696.0Z" fill="#C8E6FF"/>
<path d="M655.0 690.0C655.0 686.7 656.2 682.5 658.0 680.0C659.8 677.5 663.3 675.5 666.0 675.0C668.7 674.5 673.3 675.8 674.0 677.0C674.7 678.2 671.7 680.8 670.0 682.0C668.3 683.2 665.3 682.3 664.0 684.0C662.7 685.7 661.3 690.0 662.0 692.0C662.7 694.0 667.3 694.3 668.0 696.0C668.7 697.7 667.7 701.3 666.0 702.0C664.3 702.7 659.8 702.0 658.0 700.0C656.2 698.0 655.0 693.3 655.0 690.0Z" fill="#663399"/>
<path d="M678.0 692.0C679.0 690.3 683.7 689.7 686.0 690.0C688.3 690.3 691.7 692.2 692.0 694.0C692.3 695.8 690.0 700.0 688.0 701.0C686.0 702.0 681.7 701.5 680.0 700.0C678.3 698.5 677.0 693.7 678.0 692.0Z" fill="#663399"/>
<path d="M716.0 690.0C716.7 688.2 718.5 685.0 720.0 685.0C721.5 685.0 724.2 687.5 725.0 690.0C725.8 692.5 726.0 698.0 725.0 700.0C724.0 702.0 720.5 702.7 719.0 702.0C717.5 701.3 716.5 698.0 716.0 696.0C715.5 694.0 715.3 691.8 716.0 690.0Z" fill="#663399"/>
<path d="M692.0 678.0C692.5 676.8 696.7 676.3 698.0 677.0C699.3 677.7 700.5 680.8 700.0 682.0C699.5 683.2 696.3 684.7 695.0 684.0C693.7 683.3 691.5 679.2 692.0 678.0Z" fill="#663399"/>
</g>
<path d="M176.0 499.0C176.7 497.5 177.5 494.9 180.0 494.0C182.5 493.1 191.0 492.5 195.0 492.0C199.0 491.5 206.4 490.7 210.0 490.0C213.6 489.3 220.0 485.3 222.0 487.0C224.0 488.7 224.2 500.2 225.0 503.0C225.8 505.8 226.9 506.8 228.0 508.0C229.1 509.2 232.2 510.4 233.0 512.0C233.8 513.6 233.6 517.9 234.0 520.0C234.4 522.1 235.5 525.3 236.0 528.0C236.5 530.7 237.1 537.7 238.0 540.0C238.9 542.3 241.8 543.4 243.0 545.0C244.2 546.6 245.4 550.5 247.0 552.0C248.6 553.5 253.3 554.9 255.0 556.0C256.7 557.1 259.6 558.4 260.0 560.0C260.4 561.6 258.8 566.0 258.0 568.0C257.2 570.0 254.8 573.0 254.0 575.0C253.2 577.0 252.0 581.0 252.0 583.0C252.0 585.0 253.3 588.1 254.0 590.0C254.7 591.9 256.5 595.0 257.0 597.0C257.5 599.0 258.3 603.0 258.0 605.0C257.7 607.0 255.8 610.0 255.0 612.0C254.2 614.0 252.7 617.6 252.0 620.0C251.3 622.4 250.0 628.1 250.0 630.0C250.0 631.9 250.4 633.3 252.0 634.0C253.6 634.7 259.6 634.5 262.0 635.0C264.4 635.5 268.3 637.1 270.0 638.0C271.7 638.9 275.3 641.6 275.0 642.0C274.7 642.4 269.5 640.9 268.0 641.0C266.5 641.1 264.1 642.1 264.0 643.0C263.9 643.9 267.5 647.3 267.0 648.0C266.5 648.7 261.6 647.7 260.0 648.0C258.4 648.3 254.7 649.1 255.0 650.0C255.3 650.9 260.5 653.7 262.0 655.0C263.5 656.3 264.9 658.7 266.0 660.0C267.1 661.3 269.7 663.4 270.0 665.0C270.3 666.6 268.7 670.0 268.0 672.0C267.3 674.0 265.7 677.6 265.0 680.0C264.3 682.4 263.4 686.0 263.0 690.0C262.6 694.0 272.1 707.3 262.0 710.0C251.9 712.7 197.5 711.7 187.0 710.0C176.5 708.3 184.2 699.7 183.0 697.0C181.8 694.3 179.7 691.5 178.0 690.0C176.3 688.5 172.1 687.3 170.0 686.0C167.9 684.7 163.5 681.9 162.0 680.0C160.5 678.1 159.3 674.7 159.0 672.0C158.7 669.3 159.5 663.2 160.0 660.0C160.5 656.8 161.9 650.7 163.0 648.0C164.1 645.3 166.4 641.7 168.0 640.0C169.6 638.3 173.4 637.0 175.0 635.0C176.6 633.0 178.9 627.3 180.0 625.0C181.1 622.7 181.9 619.6 183.0 618.0C184.1 616.4 186.4 613.8 188.0 613.0C189.6 612.2 193.0 612.0 195.0 612.0C197.0 612.0 202.3 613.3 203.0 613.0C203.7 612.7 201.5 610.8 200.0 610.0C198.5 609.2 193.9 608.3 192.0 607.0C190.1 605.7 187.1 602.3 186.0 600.0C184.9 597.7 184.5 592.9 184.0 590.0C183.5 587.1 182.9 580.9 182.0 578.0C181.1 575.1 178.3 570.4 177.0 568.0C175.7 565.6 172.9 562.1 172.0 560.0C171.1 557.9 170.7 554.0 170.0 552.0C169.3 550.0 167.7 547.3 167.0 545.0C166.3 542.7 165.5 537.3 165.0 535.0C164.5 532.7 163.0 530.0 163.0 528.0C163.0 526.0 164.3 522.0 165.0 520.0C165.7 518.0 167.1 514.6 168.0 513.0C168.9 511.4 171.1 509.1 172.0 508.0C172.9 506.9 174.5 506.2 175.0 505.0C175.5 503.8 175.3 500.5 176.0 499.0Z" fill="#A0D0DE"/>
<path d="M178.0 462.0C180.0 460.4 187.1 458.0 190.0 458.0C192.9 458.0 197.3 461.7 200.0 462.0C202.7 462.3 207.6 461.3 210.0 460.0C212.4 458.7 216.0 452.7 218.0 452.0C220.0 451.3 223.1 455.5 225.0 455.0C226.9 454.5 230.0 449.6 232.0 448.0C234.0 446.4 237.6 444.1 240.0 443.0C242.4 441.9 247.6 440.3 250.0 440.0C252.4 439.7 256.3 440.2 258.0 441.0C259.7 441.8 261.4 445.1 263.0 446.0C264.6 446.9 268.0 447.5 270.0 448.0C272.0 448.5 275.9 449.3 278.0 450.0C280.1 450.7 284.1 451.7 286.0 453.0C287.9 454.3 291.5 458.0 292.0 460.0C292.5 462.0 290.9 466.1 290.0 468.0C289.1 469.9 286.3 472.7 285.0 474.0C283.7 475.3 280.9 476.8 280.0 478.0C279.1 479.2 280.0 482.1 278.0 483.0C276.0 483.9 268.1 484.5 265.0 485.0C261.9 485.5 257.3 486.1 255.0 487.0C252.7 487.9 250.0 490.7 248.0 492.0C246.0 493.3 241.7 495.9 240.0 497.0C238.3 498.1 236.6 499.6 235.0 500.0C233.4 500.4 229.3 499.6 228.0 500.0C226.7 500.4 225.8 504.7 225.0 503.0C224.2 501.3 224.0 488.7 222.0 487.0C220.0 485.3 213.6 489.3 210.0 490.0C206.4 490.7 199.0 491.5 195.0 492.0C191.0 492.5 182.5 493.1 180.0 494.0C177.5 494.9 176.7 497.5 176.0 499.0C175.3 500.5 175.5 503.9 175.0 505.0C174.5 506.1 172.9 507.0 172.0 507.0C171.1 507.0 168.8 506.2 168.0 505.0C167.2 503.8 166.7 499.7 166.0 498.0C165.3 496.3 164.1 493.3 163.0 492.0C161.9 490.7 158.4 489.2 158.0 488.0C157.6 486.8 158.7 484.6 160.0 483.0C161.3 481.4 166.0 477.7 168.0 476.0C170.0 474.3 173.7 471.9 175.0 470.0C176.3 468.1 176.0 463.6 178.0 462.0Z" fill="#A9D3FA"/>
<path d="M393.0 492.0C391.8 492.8 389.7 497.0 388.0 500.0C386.3 503.0 384.7 506.7 383.0 510.0C381.3 513.3 379.0 516.7 378.0 520.0C377.0 523.3 376.5 528.7 377.0 530.0C377.5 531.3 379.7 530.5 381.0 528.0C382.3 525.5 383.5 519.2 385.0 515.0C386.5 510.8 388.3 506.3 390.0 503.0C391.7 499.7 394.5 496.8 395.0 495.0C395.5 493.2 394.2 491.2 393.0 492.0Z" fill="#A0D0DE"/>
<path d="M416.0 478.0C416.8 476.3 419.7 474.0 422.0 473.0C424.3 472.0 427.7 471.5 430.0 472.0C432.3 472.5 434.3 474.7 436.0 476.0C437.7 477.3 439.7 478.3 440.0 480.0C440.3 481.7 439.7 484.8 438.0 486.0C436.3 487.2 432.7 487.2 430.0 487.0C427.3 486.8 424.2 485.7 422.0 485.0C419.8 484.3 418.0 484.2 417.0 483.0C416.0 481.8 415.2 479.7 416.0 478.0Z" fill="#A9D3FA"/>
<path d="M420.0 490.0C421.0 488.8 425.7 488.0 428.0 488.0C430.3 488.0 433.7 488.8 434.0 490.0C434.3 491.2 432.0 494.2 430.0 495.0C428.0 495.8 423.7 495.8 422.0 495.0C420.3 494.2 419.0 491.2 420.0 490.0Z" fill="#A9D3FA"/>
<path d="M668.0 500.0C667.7 497.3 668.7 492.7 670.0 490.0C671.3 487.3 676.0 482.3 678.0 480.0C680.0 477.7 683.4 474.3 685.0 473.0C686.6 471.7 688.0 470.4 690.0 470.0C692.0 469.6 696.7 470.3 700.0 470.0C703.3 469.7 709.7 468.3 715.0 468.0C720.3 467.7 734.7 468.4 740.0 468.0C745.3 467.6 751.3 465.8 755.0 465.0C758.7 464.2 766.0 461.3 768.0 462.0C770.0 462.7 770.4 468.7 770.0 470.0C769.6 471.3 767.7 471.3 765.0 472.0C762.3 472.7 754.0 475.0 750.0 475.0C746.0 475.0 739.0 472.3 735.0 472.0C731.0 471.7 724.0 472.2 720.0 473.0C716.0 473.8 708.3 476.8 705.0 478.0C701.7 479.2 697.3 480.4 695.0 482.0C692.7 483.6 689.7 487.6 688.0 490.0C686.3 492.4 683.1 497.3 682.0 500.0C680.9 502.7 680.3 507.7 680.0 510.0C679.7 512.3 680.7 516.1 680.0 517.0C679.3 517.9 676.1 517.9 675.0 517.0C673.9 516.1 672.9 512.3 672.0 510.0C671.1 507.7 668.3 502.7 668.0 500.0Z" fill="#A6CEF5"/>
<path d="M812.0 462.0C812.8 460.8 816.0 460.0 818.0 461.0C820.0 462.0 822.3 465.5 824.0 468.0C825.7 470.5 828.0 474.3 828.0 476.0C828.0 477.7 825.7 478.7 824.0 478.0C822.3 477.3 819.8 473.7 818.0 472.0C816.2 470.3 814.0 469.7 813.0 468.0C812.0 466.3 811.2 463.2 812.0 462.0Z" fill="#A6CEF5"/>
<path d="M754.0 462.0C755.3 460.7 757.7 458.7 760.0 458.0C762.3 457.3 766.2 457.2 768.0 458.0C769.8 458.8 770.8 461.2 771.0 463.0C771.2 464.8 770.5 467.7 769.0 469.0C767.5 470.3 764.2 470.8 762.0 471.0C759.8 471.2 757.7 470.8 756.0 470.0C754.3 469.2 752.3 467.3 752.0 466.0C751.7 464.7 752.7 463.3 754.0 462.0Z" fill="#A6CEF5"/>
<path d="M236.0 500.0L240.0 497.0L244.0 500.0L247.0 505.0L250.0 508.0L246.0 509.0L242.0 505.0L238.0 502.0Z" fill="#A9D3FA"/>
<path d="M150.0 312.0C151.7 311.7 156.3 310.8 160.0 310.0C163.7 309.2 168.2 308.7 172.0 307.0C175.8 305.3 180.2 301.3 183.0 300.0C185.8 298.7 187.7 298.2 189.0 299.0C190.3 299.8 190.3 303.2 191.0 305.0C191.7 306.8 191.8 308.8 193.0 310.0C194.2 311.2 195.2 312.3 198.0 312.0C200.8 311.7 206.0 309.3 210.0 308.0C214.0 306.7 217.8 304.5 222.0 304.0C226.2 303.5 231.2 305.3 235.0 305.0C238.8 304.7 242.5 303.5 245.0 302.0C247.5 300.5 248.2 298.0 250.0 296.0C251.8 294.0 253.5 291.8 256.0 290.0C258.5 288.2 261.8 286.7 265.0 285.0C268.2 283.3 272.5 281.5 275.0 280.0C277.5 278.5 279.0 277.7 280.0 276.0C281.0 274.3 280.3 272.3 281.0 270.0C281.7 267.7 283.7 265.0 284.0 262.0C284.3 259.0 283.3 255.0 283.0 252.0C282.7 249.0 283.0 246.7 282.0 244.0C281.0 241.3 278.0 238.7 277.0 236.0C276.0 233.3 275.7 230.3 276.0 228.0C276.3 225.7 279.0 224.0 279.0 222.0C279.0 220.0 277.5 217.3 276.0 216.0C274.5 214.7 271.3 215.3 270.0 214.0C268.7 212.7 268.8 210.3 268.0 208.0C267.2 205.7 265.8 202.7 265.0 200.0C264.2 197.3 263.3 195.3 263.0 192.0C262.7 188.7 263.0 182.0 263.0 180.0" fill="none" stroke="#0000ff" stroke-width="1.4" stroke-linejoin="round" stroke-linecap="round" />
<path d="M369.0 180.0C369.5 181.7 369.3 187.0 372.0 190.0C374.7 193.0 380.7 194.7 385.0 198.0C389.3 201.3 395.2 206.3 398.0 210.0C400.8 213.7 400.7 218.0 402.0 220.0C403.3 222.0 404.5 222.3 406.0 222.0C407.5 221.7 409.2 218.0 411.0 218.0C412.8 218.0 414.8 219.5 417.0 222.0C419.2 224.5 422.8 230.0 424.0 233.0C425.2 236.0 424.8 237.8 424.0 240.0C423.2 242.2 421.8 243.5 419.0 246.0C416.2 248.5 409.8 252.3 407.0 255.0C404.2 257.7 403.2 259.2 402.0 262.0C400.8 264.8 401.0 268.7 400.0 272.0C399.0 275.3 396.5 278.7 396.0 282.0C395.5 285.3 398.0 288.7 397.0 292.0C396.0 295.3 391.5 298.7 390.0 302.0C388.5 305.3 387.7 309.7 388.0 312.0C388.3 314.3 390.0 315.8 392.0 316.0C394.0 316.2 397.8 314.3 400.0 313.0C402.2 311.7 403.8 310.2 405.0 308.0C406.2 305.8 405.8 303.0 407.0 300.0C408.2 297.0 410.0 292.8 412.0 290.0C414.0 287.2 416.5 283.7 419.0 283.0C421.5 282.3 424.3 284.8 427.0 286.0C429.7 287.2 432.7 290.0 435.0 290.0C437.3 290.0 439.7 287.5 441.0 286.0C442.3 284.5 443.5 282.8 443.0 281.0C442.5 279.2 439.0 276.3 438.0 275.0C437.0 273.7 435.8 273.8 437.0 273.0C438.2 272.2 442.7 271.7 445.0 270.0C447.3 268.3 448.7 264.3 451.0 263.0C453.3 261.7 456.3 261.5 459.0 262.0C461.7 262.5 464.5 264.3 467.0 266.0C469.5 267.7 471.3 270.3 474.0 272.0C476.7 273.7 481.0 274.7 483.0 276.0C485.0 277.3 484.7 279.3 486.0 280.0C487.3 280.7 489.3 280.5 491.0 280.0C492.7 279.5 494.5 277.0 496.0 277.0C497.5 277.0 498.2 280.3 500.0 280.0C501.8 279.7 504.8 275.0 507.0 275.0C509.2 275.0 511.2 277.8 513.0 280.0C514.8 282.2 516.8 285.5 518.0 288.0C519.2 290.5 518.8 293.5 520.0 295.0C521.2 296.5 523.0 297.2 525.0 297.0C527.0 296.8 529.0 295.8 532.0 294.0C535.0 292.2 539.5 288.0 543.0 286.0C546.5 284.0 550.2 282.5 553.0 282.0C555.8 281.5 557.2 282.7 560.0 283.0C562.8 283.3 567.2 284.5 570.0 284.0C572.8 283.5 572.0 281.8 577.0 280.0C582.0 278.2 592.0 276.3 600.0 273.0C608.0 269.7 616.7 264.2 625.0 260.0C633.3 255.8 642.5 252.2 650.0 248.0C657.5 243.8 661.7 240.5 670.0 235.0C678.3 229.5 689.2 221.2 700.0 215.0C710.8 208.8 724.2 202.7 735.0 198.0C745.8 193.3 758.3 190.0 765.0 187.0C771.7 184.0 773.3 181.2 775.0 180.0" fill="none" stroke="#0000ff" stroke-width="1.4" stroke-linejoin="round" stroke-linecap="round" />
<path d="M516.0 180.0C519.2 181.2 527.7 185.2 535.0 187.0C542.3 188.8 551.7 190.2 560.0 191.0C568.3 191.8 576.7 192.2 585.0 192.0C593.3 191.8 600.8 191.2 610.0 190.0C619.2 188.8 631.7 186.7 640.0 185.0C648.3 183.3 656.7 180.8 660.0 180.0" fill="none" stroke="#0000ff" stroke-width="1.4" stroke-linejoin="round" stroke-linecap="round" />
<path d="M765.0 447.0C763.3 445.8 758.3 441.7 755.0 440.0C751.7 438.3 748.3 437.0 745.0 437.0C741.7 437.0 737.5 438.7 735.0 440.0C732.5 441.3 731.2 445.0 730.0 445.0C728.8 445.0 728.3 442.5 728.0 440.0C727.7 437.5 728.3 433.3 728.0 430.0C727.7 426.7 726.2 422.2 726.0 420.0C725.8 417.8 726.2 418.3 727.0 417.0C727.8 415.7 728.9 413.2 730.8 412.3C732.7 411.4 735.7 411.4 738.6 411.3C741.5 411.2 745.5 411.5 748.4 411.8C751.3 412.1 753.9 412.0 756.0 413.0C758.1 414.0 759.5 416.5 761.0 418.0C762.5 419.5 763.2 420.7 765.0 422.0C766.8 423.3 769.8 425.8 772.0 426.0C774.2 426.2 777.5 424.7 778.0 423.0C778.5 421.3 776.7 418.3 775.0 416.0C773.3 413.7 770.8 411.7 768.0 409.3C765.2 406.9 761.3 403.3 758.0 401.5C754.7 399.7 751.6 399.2 748.4 398.6C745.2 398.0 741.4 398.6 738.6 397.6C735.8 396.6 733.7 394.5 731.8 392.7C729.9 390.9 728.1 388.9 727.0 387.0C725.9 385.1 725.9 382.8 725.4 381.0C724.9 379.2 725.1 377.2 724.0 376.0C722.9 374.8 720.5 374.1 719.0 374.0C717.5 373.9 716.5 374.8 715.0 375.6C713.5 376.4 711.6 378.5 710.3 378.6C709.0 378.7 708.1 377.7 707.3 376.0C706.5 374.3 706.7 370.1 705.4 368.3C704.1 366.5 702.1 366.4 699.5 365.4C696.9 364.3 693.2 363.2 690.0 362.0C686.8 360.8 681.7 360.8 680.0 358.0C678.3 355.2 681.2 349.3 680.0 345.0C678.8 340.7 674.5 335.8 673.0 332.0C671.5 328.2 670.7 324.7 671.0 322.0C671.3 319.3 672.7 318.0 675.0 316.0C677.3 314.0 680.8 312.7 685.0 310.0C689.2 307.3 695.0 303.3 700.0 300.0C705.0 296.7 710.0 293.8 715.0 290.0C720.0 286.2 725.0 280.3 730.0 277.0C735.0 273.7 739.2 272.8 745.0 270.0C750.8 267.2 759.2 263.3 765.0 260.0C770.8 256.7 776.7 252.5 780.0 250.0C783.3 247.5 783.0 245.7 785.0 245.0C787.0 244.3 790.3 246.3 792.0 246.0C793.7 245.7 795.3 244.0 795.0 243.0C794.7 242.0 790.8 241.2 790.0 240.0C789.2 238.8 789.2 237.0 790.0 236.0C790.8 235.0 790.8 234.2 795.0 234.0C799.2 233.8 809.2 234.5 815.0 235.0C820.8 235.5 826.8 237.2 830.0 237.0C833.2 236.8 833.5 236.0 834.0 234.0C834.5 232.0 832.8 227.7 833.0 225.0C833.2 222.3 833.5 220.2 835.0 218.0C836.5 215.8 839.5 213.7 842.0 212.0C844.5 210.3 847.3 209.0 850.0 208.0C852.7 207.0 855.5 205.7 858.0 206.0C860.5 206.3 862.7 207.7 865.0 210.0C867.3 212.3 869.5 216.7 872.0 220.0C874.5 223.3 877.0 227.2 880.0 230.0C883.0 232.8 887.0 235.2 890.0 237.0C893.0 238.8 895.0 240.3 898.0 241.0C901.0 241.7 905.5 241.7 908.0 241.0C910.5 240.3 912.2 238.8 913.0 237.0C913.8 235.2 912.3 232.5 913.0 230.0C913.7 227.5 916.8 224.3 917.0 222.0C917.2 219.7 915.5 217.7 914.0 216.0C912.5 214.3 909.2 214.7 908.0 212.0C906.8 209.3 906.7 203.3 907.0 200.0C907.3 196.7 908.5 194.5 910.0 192.0C911.5 189.5 913.7 187.0 916.0 185.0C918.3 183.0 922.7 180.8 924.0 180.0" fill="none" stroke="#0000ff" stroke-width="1.4" stroke-linejoin="round" stroke-linecap="round" />
<path d="M940.0 255.0C939.5 256.2 937.8 259.2 937.0 262.0C936.2 264.8 935.8 269.5 935.0 272.0C934.2 274.5 933.7 275.7 932.0 277.0C930.3 278.3 927.3 279.2 925.0 280.0C922.7 280.8 920.2 281.5 918.0 282.0C915.8 282.5 914.2 282.2 912.0 283.0C909.8 283.8 907.3 285.5 905.0 287.0C902.7 288.5 900.0 290.2 898.0 292.0C896.0 293.8 893.8 296.2 893.0 298.0C892.2 299.8 892.2 301.3 893.0 303.0C893.8 304.7 896.3 306.5 898.0 308.0C899.7 309.5 901.0 311.2 903.0 312.0C905.0 312.8 908.2 312.2 910.0 313.0C911.8 313.8 913.3 315.3 914.0 317.0C914.7 318.7 914.7 321.5 914.0 323.0C913.3 324.5 912.0 325.2 910.0 326.0C908.0 326.8 904.3 327.2 902.0 328.0C899.7 328.8 897.3 329.8 896.0 331.0C894.7 332.2 895.0 333.5 894.0 335.0C893.0 336.5 891.8 338.3 890.0 340.0C888.2 341.7 885.5 343.5 883.0 345.0C880.5 346.5 877.5 348.0 875.0 349.0C872.5 350.0 869.3 350.2 868.0 351.0C866.7 351.8 866.3 353.0 867.0 354.0C867.7 355.0 869.8 356.5 872.0 357.0C874.2 357.5 878.2 357.8 880.0 357.0C881.8 356.2 882.5 352.8 883.0 352.0" fill="none" stroke="#0000ff" stroke-width="1.4" stroke-linejoin="round" stroke-linecap="round" />
<path d="M869.0 308.0C869.5 306.8 870.8 306.5 873.0 306.0C875.2 305.5 879.5 305.0 882.0 305.0C884.5 305.0 886.7 304.8 888.0 306.0C889.3 307.2 889.7 309.8 890.0 312.0C890.3 314.2 890.5 317.5 890.0 319.0C889.5 320.5 888.3 321.2 887.0 321.0C885.7 320.8 884.0 318.8 882.0 318.0C880.0 317.2 877.0 316.8 875.0 316.0C873.0 315.2 871.0 314.3 870.0 313.0C869.0 311.7 868.5 309.2 869.0 308.0Z" fill="none" stroke="#0000ff" stroke-width="1.4" stroke-linejoin="round" stroke-linecap="round" />
<path d="M847.0 320.0C847.7 319.0 850.8 317.2 853.0 317.0C855.2 316.8 858.5 318.2 860.0 319.0C861.5 319.8 862.7 321.2 862.0 322.0C861.3 322.8 858.2 323.8 856.0 324.0C853.8 324.2 850.5 323.7 849.0 323.0C847.5 322.3 846.3 321.0 847.0 320.0Z" fill="none" stroke="#0000ff" stroke-width="1.4" stroke-linejoin="round" stroke-linecap="round" />
<path d="M861.0 337.0C860.7 335.8 864.2 333.3 866.0 333.0C867.8 332.7 870.5 334.0 872.0 335.0C873.5 336.0 875.7 338.2 875.0 339.0C874.3 339.8 870.3 340.3 868.0 340.0C865.7 339.7 861.3 338.2 861.0 337.0Z" fill="none" stroke="#0000ff" stroke-width="1.4" stroke-linejoin="round" stroke-linecap="round" />
<path d="M823.0 331.0C824.2 330.3 828.5 328.5 830.0 327.0C831.5 325.5 831.0 323.2 832.0 322.0C833.0 320.8 834.3 320.0 836.0 320.0C837.7 320.0 840.5 320.7 842.0 322.0C843.5 323.3 844.0 325.8 845.0 328.0C846.0 330.2 847.8 333.0 848.0 335.0C848.2 337.0 847.0 338.8 846.0 340.0C845.0 341.2 843.3 340.7 842.0 342.0C840.7 343.3 839.0 346.7 838.0 348.0C837.0 349.3 835.3 349.7 836.0 350.0C836.7 350.3 840.3 350.3 842.0 350.0C843.7 349.7 846.0 349.0 846.0 348.0C846.0 347.0 842.7 344.7 842.0 344.0" fill="none" stroke="#0000ff" stroke-width="1.4" stroke-linejoin="round" stroke-linecap="round" />
<path d="M901.0 336.0C902.0 335.2 906.8 334.5 910.0 334.0C913.2 333.5 917.2 332.7 920.0 333.0C922.8 333.3 925.7 334.7 927.0 336.0C928.3 337.3 928.8 339.7 928.0 341.0C927.2 342.3 924.2 343.3 922.0 344.0C919.8 344.7 917.3 345.2 915.0 345.0C912.7 344.8 909.8 344.0 908.0 343.0C906.2 342.0 905.2 340.2 904.0 339.0C902.8 337.8 900.0 336.8 901.0 336.0Z" fill="none" stroke="#0000ff" stroke-width="1.4" stroke-linejoin="round" stroke-linecap="round" />
<path d="M893.0 350.0C893.3 349.0 895.7 348.0 897.0 348.0C898.3 348.0 900.5 349.0 901.0 350.0C901.5 351.0 901.0 353.3 900.0 354.0C899.0 354.7 896.2 354.7 895.0 354.0C893.8 353.3 892.7 351.0 893.0 350.0Z" fill="none" stroke="#0000ff" stroke-width="1.4" stroke-linejoin="round" stroke-linecap="round" />
<path d="M940.0 290.0C938.7 290.2 933.5 289.8 932.0 291.0C930.5 292.2 931.0 294.8 931.0 297.0C931.0 299.2 930.5 302.5 932.0 304.0C933.5 305.5 938.7 305.7 940.0 306.0" fill="none" stroke="#0000ff" stroke-width="1.4" stroke-linejoin="round" stroke-linecap="round" />
<path d="M865.0 377.0C865.0 376.0 868.0 374.5 870.0 374.0C872.0 373.5 875.8 373.3 877.0 374.0C878.2 374.7 878.2 377.0 877.0 378.0C875.8 379.0 872.0 380.2 870.0 380.0C868.0 379.8 865.0 378.0 865.0 377.0Z" fill="none" stroke="#0000ff" stroke-width="1.4" stroke-linejoin="round" stroke-linecap="round" />
<path d="M940.0 354.0C938.3 354.2 932.3 353.8 930.0 355.0C927.7 356.2 926.8 358.5 926.0 361.0C925.2 363.5 924.7 367.2 925.0 370.0C925.3 372.8 926.7 376.3 928.0 378.0C929.3 379.7 931.7 380.5 933.0 380.0C934.3 379.5 934.8 376.7 936.0 375.0C937.2 373.3 939.3 370.8 940.0 370.0" fill="none" stroke="#0000ff" stroke-width="1.4" stroke-linejoin="round" stroke-linecap="round" />
<path d="M940.0 362.0C938.8 362.8 934.3 364.8 933.0 367.0C931.7 369.2 931.8 372.5 932.0 375.0C932.2 377.5 933.7 380.8 934.0 382.0" fill="none" stroke="#0000ff" stroke-width="1.4" stroke-linejoin="round" stroke-linecap="round" />
<path d="M920.0 380.0C920.8 381.2 923.0 385.7 925.0 387.0C927.0 388.3 929.5 388.3 932.0 388.0C934.5 387.7 938.7 385.5 940.0 385.0" fill="none" stroke="#0000ff" stroke-width="1.4" stroke-linejoin="round" stroke-linecap="round" />
<path d="M875.0 400.0C875.8 399.5 877.5 397.7 880.0 397.0C882.5 396.3 886.7 396.0 890.0 396.0C893.3 396.0 897.5 396.3 900.0 397.0C902.5 397.7 903.3 398.8 905.0 400.0C906.7 401.2 909.2 403.3 910.0 404.0" fill="none" stroke="#0000ff" stroke-width="1.4" stroke-linejoin="round" stroke-linecap="round" />
<path d="M150.0 416.0C153.3 417.3 164.2 421.7 170.0 424.0C175.8 426.3 180.0 428.2 185.0 430.0C190.0 431.8 195.8 433.0 200.0 435.0C204.2 437.0 206.7 439.5 210.0 442.0C213.3 444.5 217.0 448.2 220.0 450.0C223.0 451.8 224.7 452.0 228.0 453.0C231.3 454.0 236.3 454.5 240.0 456.0C243.7 457.5 246.3 459.3 250.0 462.0C253.7 464.7 257.8 468.2 262.0 472.0C266.2 475.8 271.2 480.8 275.0 485.0C278.8 489.2 282.2 493.3 285.0 497.0C287.8 500.7 290.2 503.2 292.0 507.0C293.8 510.8 294.3 516.2 296.0 520.0C297.7 523.8 299.7 526.7 302.0 530.0C304.3 533.3 307.3 537.0 310.0 540.0C312.7 543.0 315.0 545.0 318.0 548.0C321.0 551.0 324.3 554.7 328.0 558.0C331.7 561.3 335.5 564.8 340.0 568.0C344.5 571.2 351.3 574.2 355.0 577.0C358.7 579.8 358.7 582.8 362.0 585.0C365.3 587.2 369.5 588.3 375.0 590.0C380.5 591.7 389.2 593.0 395.0 595.0C400.8 597.0 405.0 600.0 410.0 602.0C415.0 604.0 419.2 605.7 425.0 607.0C430.8 608.3 438.3 608.8 445.0 610.0C451.7 611.2 460.0 613.0 465.0 614.0C470.0 615.0 472.8 614.7 475.0 616.0C477.2 617.3 477.2 619.7 478.0 622.0C478.8 624.3 478.5 628.2 480.0 630.0C481.5 631.8 484.5 632.7 487.0 633.0C489.5 633.3 492.8 632.7 495.0 632.0C497.2 631.3 497.5 629.3 500.0 629.0C502.5 628.7 506.7 629.0 510.0 630.0C513.3 631.0 517.5 633.3 520.0 635.0C522.5 636.7 524.2 638.0 525.0 640.0C525.8 642.0 524.2 645.0 525.0 647.0C525.8 649.0 527.5 650.7 530.0 652.0C532.5 653.3 536.3 654.0 540.0 655.0C543.7 656.0 548.7 658.0 552.0 658.0C555.3 658.0 557.0 656.3 560.0 655.0C563.0 653.7 566.7 651.2 570.0 650.0C573.3 648.8 576.7 648.8 580.0 648.0C583.3 647.2 587.5 646.3 590.0 645.0C592.5 643.7 594.5 641.7 595.0 640.0C595.5 638.3 593.8 636.3 593.0 635.0C592.2 633.7 590.2 633.2 590.0 632.0C589.8 630.8 590.8 628.0 592.0 628.0C593.2 628.0 596.2 630.0 597.0 632.0C597.8 634.0 597.3 637.0 597.0 640.0C596.7 643.0 596.2 647.5 595.0 650.0C593.8 652.5 592.5 653.7 590.0 655.0C587.5 656.3 583.3 657.2 580.0 658.0C576.7 658.8 573.3 659.0 570.0 660.0C566.7 661.0 562.5 662.3 560.0 664.0C557.5 665.7 557.0 668.2 555.0 670.0C553.0 671.8 549.3 672.5 548.0 675.0C546.7 677.5 548.3 682.0 547.0 685.0C545.7 688.0 542.8 688.8 540.0 693.0C537.2 697.2 531.7 707.2 530.0 710.0" fill="none" stroke="#0000ff" stroke-width="1.4" stroke-linejoin="round" stroke-linecap="round" />
<path d="M150.0 367.5C151.7 367.9 155.8 369.0 160.0 370.0C164.2 371.0 169.7 372.0 175.0 373.5C180.3 375.0 185.3 377.6 192.0 379.0C198.7 380.4 207.0 380.5 215.0 382.0C223.0 383.5 232.5 386.0 240.0 388.0C247.5 390.0 255.0 392.5 260.0 394.0C265.0 395.5 264.2 395.7 270.0 397.0C275.8 398.3 287.5 400.3 295.0 402.0C302.5 403.7 309.2 405.3 315.0 407.0C320.8 408.7 326.2 410.2 330.0 412.0C333.8 413.8 336.0 415.5 338.0 418.0C340.0 420.5 340.5 424.2 342.0 427.0C343.5 429.8 344.8 433.2 347.0 435.0C349.2 436.8 353.2 436.8 355.0 438.0C356.8 439.2 357.2 439.7 358.0 442.0C358.8 444.3 358.8 449.3 360.0 452.0C361.2 454.7 362.5 456.2 365.0 458.0C367.5 459.8 372.5 461.5 375.0 463.0C377.5 464.5 379.0 465.0 380.0 467.0C381.0 469.0 379.8 472.5 381.0 475.0C382.2 477.5 385.2 480.0 387.0 482.0C388.8 484.0 390.5 485.2 392.0 487.0C393.5 488.8 394.7 492.0 396.0 493.0C397.3 494.0 397.7 493.2 400.0 493.0C402.3 492.8 406.7 492.7 410.0 492.0C413.3 491.3 416.3 489.8 420.0 489.0C423.7 488.2 428.7 486.8 432.0 487.0C435.3 487.2 437.5 488.7 440.0 490.0C442.5 491.3 444.5 493.5 447.0 495.0C449.5 496.5 452.0 498.2 455.0 499.0C458.0 499.8 460.8 500.0 465.0 500.0C469.2 500.0 475.0 499.0 480.0 499.0C485.0 499.0 491.2 500.0 495.0 500.0C498.8 500.0 500.5 498.7 503.0 499.0C505.5 499.3 507.2 500.7 510.0 502.0C512.8 503.3 515.8 505.7 520.0 507.0C524.2 508.3 530.8 509.0 535.0 510.0C539.2 511.0 541.7 511.7 545.0 513.0C548.3 514.3 552.5 516.8 555.0 518.0C557.5 519.2 556.7 518.5 560.0 520.0C563.3 521.5 570.0 525.3 575.0 527.0C580.0 528.7 585.0 529.3 590.0 530.0C595.0 530.7 599.2 530.8 605.0 531.0C610.8 531.2 619.2 531.5 625.0 531.0C630.8 530.5 635.8 529.0 640.0 528.0C644.2 527.0 647.0 525.8 650.0 525.0C653.0 524.2 655.5 523.0 658.0 523.0C660.5 523.0 662.2 523.8 665.0 525.0C667.8 526.2 670.8 528.5 675.0 530.0C679.2 531.5 685.0 533.2 690.0 534.0C695.0 534.8 700.0 535.2 705.0 535.0C710.0 534.8 715.8 534.2 720.0 533.0C724.2 531.8 727.2 529.8 730.0 528.0C732.8 526.2 734.5 523.8 737.0 522.0C739.5 520.2 742.0 518.0 745.0 517.0C748.0 516.0 752.2 516.8 755.0 516.0C757.8 515.2 760.7 513.8 762.0 512.5C763.3 511.2 761.8 508.8 763.0 508.0C764.2 507.2 767.0 506.9 769.0 507.6C771.0 508.4 773.1 510.8 774.7 512.5C776.3 514.2 778.4 516.1 778.6 518.0C778.8 519.9 777.3 522.2 775.7 524.0C774.1 525.8 770.4 527.2 768.8 529.0C767.2 530.8 766.0 533.2 766.0 535.0C766.0 536.8 767.0 538.7 768.8 539.8C770.6 540.9 774.5 540.5 776.6 541.8C778.7 543.1 780.0 545.6 781.5 547.6C783.0 549.6 784.9 551.7 785.4 553.5C785.9 555.3 785.0 556.9 784.5 558.4C784.0 559.9 784.1 561.8 782.5 562.3C780.9 562.8 777.3 561.9 774.7 561.3C772.1 560.6 769.5 559.1 766.9 558.4C764.3 557.7 761.5 557.1 759.0 556.9C756.5 556.7 754.4 556.6 752.0 557.4C749.6 558.2 747.3 560.4 744.4 561.8C741.5 563.2 737.5 564.6 734.6 566.0C731.7 567.4 728.4 568.3 726.8 570.0C725.2 571.7 726.4 574.3 724.9 576.0C723.4 577.7 721.3 579.0 718.0 580.0C714.7 581.0 709.7 581.5 705.0 582.0C700.3 582.5 695.0 582.2 690.0 583.0C685.0 583.8 679.2 585.8 675.0 587.0C670.8 588.2 668.3 589.2 665.0 590.0C661.7 590.8 658.3 591.0 655.0 592.0C651.7 593.0 649.2 594.7 645.0 596.0C640.8 597.3 634.5 598.8 630.0 600.0C625.5 601.2 620.8 601.8 618.0 603.0C615.2 604.2 614.0 605.0 613.0 607.0C612.0 609.0 611.7 612.5 612.0 615.0C612.3 617.5 613.3 620.3 615.0 622.0C616.7 623.7 619.5 625.3 622.0 625.0C624.5 624.7 627.5 622.0 630.0 620.0C632.5 618.0 634.5 615.0 637.0 613.0C639.5 611.0 642.0 609.0 645.0 608.0C648.0 607.0 651.7 607.5 655.0 607.0C658.3 606.5 662.2 605.3 665.0 605.0C667.8 604.7 670.7 604.5 672.0 605.0C673.3 605.5 673.7 606.8 673.0 608.0C672.3 609.2 669.7 611.2 668.0 612.0C666.3 612.8 664.0 612.2 663.0 613.0C662.0 613.8 661.2 616.2 662.0 617.0C662.8 617.8 665.8 617.2 668.0 618.0C670.2 618.8 673.0 620.3 675.0 622.0C677.0 623.7 678.5 625.7 680.0 628.0C681.5 630.3 683.5 633.5 684.0 636.0C684.5 638.5 684.0 640.7 683.0 643.0C682.0 645.3 680.2 648.0 678.0 650.0C675.8 652.0 673.0 653.8 670.0 655.0C667.0 656.2 663.3 656.2 660.0 657.0C656.7 657.8 653.3 659.2 650.0 660.0C646.7 660.8 643.3 661.2 640.0 662.0C636.7 662.8 633.3 664.2 630.0 665.0C626.7 665.8 623.3 666.5 620.0 667.0C616.7 667.5 614.2 667.2 610.0 668.0C605.8 668.8 600.0 670.7 595.0 672.0C590.0 673.3 584.2 674.2 580.0 676.0C575.8 677.8 573.3 681.2 570.0 683.0C566.7 684.8 562.3 685.8 560.0 687.0C557.7 688.2 556.7 688.8 556.0 690.0C555.3 691.2 555.3 693.2 556.0 694.0C556.7 694.8 556.8 695.2 560.0 695.0C563.2 694.8 570.0 693.5 575.0 693.0C580.0 692.5 585.0 692.3 590.0 692.0C595.0 691.7 601.3 690.8 605.0 691.0C608.7 691.2 610.2 691.8 612.0 693.0C613.8 694.2 615.2 695.2 616.0 698.0C616.8 700.8 616.8 708.0 617.0 710.0" fill="none" stroke="#0000ff" stroke-width="1.4" stroke-linejoin="round" stroke-linecap="round" />
<path d="M182.0 550.0C182.0 545.3 183.3 543.3 185.0 540.0C186.7 536.7 189.2 533.2 192.0 530.0C194.8 526.8 199.0 523.0 202.0 521.0C205.0 519.0 207.3 518.2 210.0 518.0C212.7 517.8 215.0 518.3 218.0 520.0C221.0 521.7 225.0 524.7 228.0 528.0C231.0 531.3 234.0 535.5 236.0 540.0C238.0 544.5 238.7 550.8 240.0 555.0C241.3 559.2 243.2 562.2 244.0 565.0C244.8 567.8 245.7 569.5 245.0 572.0C244.3 574.5 242.5 577.8 240.0 580.0C237.5 582.2 234.2 583.5 230.0 585.0C225.8 586.5 220.0 588.7 215.0 589.0C210.0 589.3 204.2 588.8 200.0 587.0C195.8 585.2 192.5 581.2 190.0 578.0C187.5 574.8 186.3 572.7 185.0 568.0C183.7 563.3 182.0 554.7 182.0 550.0Z" fill="none" stroke="#0000ff" stroke-width="1.4" stroke-linejoin="round" stroke-linecap="round" />
<path d="M150.0 533.0C151.7 534.2 157.5 537.5 160.0 540.0C162.5 542.5 163.7 544.7 165.0 548.0C166.3 551.3 166.8 556.0 168.0 560.0C169.2 564.0 170.3 568.2 172.0 572.0C173.7 575.8 176.3 579.7 178.0 583.0C179.7 586.3 181.2 589.2 182.0 592.0C182.8 594.8 183.0 597.8 183.0 600.0C183.0 602.2 182.8 603.7 182.0 605.0C181.2 606.3 179.7 608.0 178.0 608.0C176.3 608.0 174.2 606.7 172.0 605.0C169.8 603.3 167.3 600.2 165.0 598.0C162.7 595.8 160.5 594.0 158.0 592.0C155.5 590.0 151.3 587.0 150.0 586.0" fill="none" stroke="#0000ff" stroke-width="1.4" stroke-linejoin="round" stroke-linecap="round" />
<path d="M387.0 710.0C388.3 707.8 392.0 700.0 395.0 697.0C398.0 694.0 401.7 693.0 405.0 692.0C408.3 691.0 411.7 691.0 415.0 691.0C418.3 691.0 420.8 691.0 425.0 692.0C429.2 693.0 435.5 695.5 440.0 697.0C444.5 698.5 448.0 698.8 452.0 701.0C456.0 703.2 462.0 708.5 464.0 710.0" fill="none" stroke="#0000ff" stroke-width="1.4" stroke-linejoin="round" stroke-linecap="round" />
<path d="M548.0 710.0C549.2 708.3 552.7 701.0 555.0 700.0C557.3 699.0 560.2 702.3 562.0 704.0C563.8 705.7 565.3 709.0 566.0 710.0" fill="none" stroke="#0000ff" stroke-width="1.4" stroke-linejoin="round" stroke-linecap="round" />
<path d="M715.0 417.0C717.2 417.3 718.3 422.5 720.0 425.0C721.7 427.5 724.0 429.5 725.0 432.0C726.0 434.5 726.5 437.5 726.0 440.0C725.5 442.5 724.3 445.0 722.0 447.0C719.7 449.0 715.3 450.5 712.0 452.0C708.7 453.5 704.7 455.5 702.0 456.0C699.3 456.5 697.3 456.5 696.0 455.0C694.7 453.5 694.2 450.0 694.0 447.0C693.8 444.0 694.0 439.8 695.0 437.0C696.0 434.2 698.0 432.3 700.0 430.0C702.0 427.7 704.5 425.2 707.0 423.0C709.5 420.8 712.8 416.7 715.0 417.0Z" fill="none" stroke="#0000ff" stroke-width="1.4" stroke-linejoin="round" stroke-linecap="round" />
<path d="M765.0 447.0C766.2 447.5 769.5 449.7 772.0 450.0C774.5 450.3 777.0 449.7 780.0 449.0C783.0 448.3 786.7 446.3 790.0 446.0C793.3 445.7 797.3 446.5 800.0 447.0C802.7 447.5 805.0 448.7 806.0 449.0" fill="none" stroke="#0000ff" stroke-width="1.4" stroke-linejoin="round" stroke-linecap="round" />
<path d="M697.0 640.0C697.8 641.2 700.2 645.0 702.0 647.0C703.8 649.0 706.3 650.2 708.0 652.0C709.7 653.8 711.3 657.0 712.0 658.0" fill="none" stroke="#0000ff" stroke-width="1.4" stroke-linejoin="round" stroke-linecap="round" />
<path d="M940.0 535.0C938.7 535.3 934.5 536.5 932.0 537.0C929.5 537.5 927.3 537.0 925.0 538.0C922.7 539.0 919.7 541.0 918.0 543.0C916.3 545.0 916.3 548.0 915.0 550.0C913.7 552.0 912.5 553.7 910.0 555.0C907.5 556.3 904.2 556.7 900.0 558.0C895.8 559.3 889.2 561.5 885.0 563.0C880.8 564.5 879.2 565.8 875.0 567.0C870.8 568.2 864.5 569.2 860.0 570.0C855.5 570.8 851.7 571.2 848.0 572.0C844.3 572.8 840.7 573.7 838.0 575.0C835.3 576.3 834.2 578.3 832.0 580.0C829.8 581.7 827.8 583.3 825.0 585.0C822.2 586.7 817.8 588.7 815.0 590.0C812.2 591.3 810.5 592.5 808.0 593.0C805.5 593.5 802.7 592.3 800.0 593.0C797.3 593.7 794.5 595.0 792.0 597.0C789.5 599.0 787.8 602.0 785.0 605.0C782.2 608.0 778.3 611.7 775.0 615.0C771.7 618.3 768.3 623.8 765.0 625.0C761.7 626.2 758.3 621.2 755.0 622.0C751.7 622.8 748.3 627.5 745.0 630.0C741.7 632.5 738.3 635.0 735.0 637.0C731.7 639.0 728.3 640.3 725.0 642.0C721.7 643.7 717.2 645.3 715.0 647.0C712.8 648.7 712.5 651.2 712.0 652.0" fill="none" stroke="#0000ff" stroke-width="1.4" stroke-linejoin="round" stroke-linecap="round" />
<path d="M697.0 640.0C697.0 639.2 695.7 636.2 697.0 635.0C698.3 633.8 702.0 634.2 705.0 633.0C708.0 631.8 711.7 629.8 715.0 628.0C718.3 626.2 722.2 623.3 725.0 622.0C727.8 620.7 731.2 619.5 732.0 620.0C732.8 620.5 729.5 624.7 730.0 625.0C730.5 625.3 733.3 623.7 735.0 622.0C736.7 620.3 738.3 617.3 740.0 615.0C741.7 612.7 744.7 610.5 745.0 608.0C745.3 605.5 740.8 602.8 742.0 600.0C743.2 597.2 748.2 593.5 752.0 591.0C755.8 588.5 760.3 587.3 765.0 585.0C769.7 582.7 774.2 579.2 780.0 577.0C785.8 574.8 793.3 573.7 800.0 572.0C806.7 570.3 814.2 568.7 820.0 567.0C825.8 565.3 830.0 563.5 835.0 562.0C840.0 560.5 845.0 559.3 850.0 558.0C855.0 556.7 860.8 555.0 865.0 554.0C869.2 553.0 872.5 553.5 875.0 552.0C877.5 550.5 878.7 547.8 880.0 545.0C881.3 542.2 881.3 538.3 883.0 535.0C884.7 531.7 887.7 527.8 890.0 525.0C892.3 522.2 895.3 519.7 897.0 518.0C898.7 516.3 900.3 516.0 900.0 515.0C899.7 514.0 898.3 512.8 895.0 512.0C891.7 511.2 885.0 510.7 880.0 510.0C875.0 509.3 868.8 508.3 865.0 508.0C861.2 507.7 859.5 507.3 857.0 508.0C854.5 508.7 852.8 511.2 850.0 512.0C847.2 512.8 844.2 513.3 840.0 513.0C835.8 512.7 829.2 511.3 825.0 510.0C820.8 508.7 817.2 507.0 815.0 505.0C812.8 503.0 811.2 500.0 812.0 498.0C812.8 496.0 816.7 494.3 820.0 493.0C823.3 491.7 829.0 489.7 832.0 490.0C835.0 490.3 836.3 493.0 838.0 495.0C839.7 497.0 839.2 500.8 842.0 502.0C844.8 503.2 850.3 502.3 855.0 502.0C859.7 501.7 865.0 500.8 870.0 500.0C875.0 499.2 880.0 498.2 885.0 497.0C890.0 495.8 895.0 494.2 900.0 493.0C905.0 491.8 910.8 490.8 915.0 490.0C919.2 489.2 922.2 489.3 925.0 488.0C927.8 486.7 930.2 484.7 932.0 482.0C933.8 479.3 934.7 474.8 936.0 472.0C937.3 469.2 939.3 466.2 940.0 465.0" fill="none" stroke="#0000ff" stroke-width="1.4" stroke-linejoin="round" stroke-linecap="round" />
<path d="M940.0 405.0C937.5 403.8 930.0 399.2 925.0 398.0C920.0 396.8 915.0 398.5 910.0 398.0C905.0 397.5 900.0 395.2 895.0 395.0C890.0 394.8 883.3 395.8 880.0 397.0C876.7 398.2 874.2 400.7 875.0 402.0C875.8 403.3 881.2 404.5 885.0 405.0C888.8 405.5 894.7 404.2 898.0 405.0C901.3 405.8 903.8 407.8 905.0 410.0C906.2 412.2 904.2 415.8 905.0 418.0C905.8 420.2 909.2 421.0 910.0 423.0C910.8 425.0 911.2 427.7 910.0 430.0C908.8 432.3 906.3 435.0 903.0 437.0C899.7 439.0 893.8 440.7 890.0 442.0C886.2 443.3 883.0 443.3 880.0 445.0C877.0 446.7 873.2 449.2 872.0 452.0C870.8 454.8 872.5 459.0 873.0 462.0C873.5 465.0 875.5 467.5 875.0 470.0C874.5 472.5 872.5 474.5 870.0 477.0C867.5 479.5 863.3 482.8 860.0 485.0C856.7 487.2 853.3 488.7 850.0 490.0C846.7 491.3 841.7 492.5 840.0 493.0" fill="none" stroke="#0000ff" stroke-width="1.4" stroke-linejoin="round" stroke-linecap="round" />
<path d="M858.0 410.0C856.7 408.7 852.7 404.3 850.0 402.0C847.3 399.7 844.7 397.7 842.0 396.0C839.3 394.3 836.3 392.0 834.0 392.0C831.7 392.0 829.3 394.0 828.0 396.0C826.7 398.0 825.7 401.3 826.0 404.0C826.3 406.7 828.0 409.7 830.0 412.0C832.0 414.3 835.0 417.3 838.0 418.0C841.0 418.7 846.3 416.3 848.0 416.0" fill="none" stroke="#0000ff" stroke-width="1.4" stroke-linejoin="round" stroke-linecap="round" />
<path d="M790.0 434.0C791.7 433.0 796.3 428.7 800.0 428.0C803.7 427.3 807.8 428.8 812.0 430.0C816.2 431.2 821.2 433.3 825.0 435.0C828.8 436.7 831.2 439.8 835.0 440.0C838.8 440.2 843.8 437.7 848.0 436.0C852.2 434.3 856.0 432.0 860.0 430.0C864.0 428.0 868.7 426.0 872.0 424.0C875.3 422.0 878.7 419.0 880.0 418.0" fill="none" stroke="#0000ff" stroke-width="1.4" stroke-linejoin="round" stroke-linecap="round" />
<path d="M797.0 488.0C797.0 486.0 800.2 480.3 802.0 478.0C803.8 475.7 806.3 474.0 808.0 474.0C809.7 474.0 812.0 476.0 812.0 478.0C812.0 480.0 809.7 484.0 808.0 486.0C806.3 488.0 803.8 489.7 802.0 490.0C800.2 490.3 797.0 490.0 797.0 488.0Z" fill="none" stroke="#0000ff" stroke-width="1.4" stroke-linejoin="round" stroke-linecap="round" />
<path d="M805.0 447.0C805.7 445.3 809.8 443.2 812.0 443.0C814.2 442.8 816.7 444.5 818.0 446.0C819.3 447.5 820.7 450.5 820.0 452.0C819.3 453.5 816.0 454.8 814.0 455.0C812.0 455.2 809.5 454.3 808.0 453.0C806.5 451.7 804.3 448.7 805.0 447.0Z" fill="none" stroke="#0000ff" stroke-width="1.4" stroke-linejoin="round" stroke-linecap="round" />
<path d="M765.0 668.0C763.3 667.5 758.3 666.2 755.0 665.0C751.7 663.8 747.8 661.8 745.0 661.0C742.2 660.2 740.2 659.7 738.0 660.0C735.8 660.3 733.3 661.7 732.0 663.0C730.7 664.3 729.5 665.7 730.0 668.0C730.5 670.3 732.5 674.2 735.0 677.0C737.5 679.8 741.7 682.5 745.0 685.0C748.3 687.5 752.8 689.5 755.0 692.0C757.2 694.5 757.2 697.0 758.0 700.0C758.8 703.0 759.7 708.3 760.0 710.0" fill="none" stroke="#0000ff" stroke-width="1.4" stroke-linejoin="round" stroke-linecap="round" />
<path d="M765.0 668.0C765.8 669.2 768.3 672.2 770.0 675.0C771.7 677.8 773.0 682.0 775.0 685.0C777.0 688.0 778.7 690.8 782.0 693.0C785.3 695.2 791.2 696.7 795.0 698.0C798.8 699.3 801.7 700.1 805.0 701.0C808.3 701.9 810.8 702.7 815.0 703.5C819.2 704.3 827.5 705.6 830.0 706.0" fill="none" stroke="#0000ff" stroke-width="1.4" stroke-linejoin="round" stroke-linecap="round" />
<path d="M632.0 710.0C632.8 707.0 634.8 697.0 637.0 692.0C639.2 687.0 642.0 683.3 645.0 680.0C648.0 676.7 651.3 674.0 655.0 672.0C658.7 670.0 663.7 669.3 667.0 668.0C670.3 666.7 671.2 664.8 675.0 664.0C678.8 663.2 685.0 662.8 690.0 663.0C695.0 663.2 700.8 663.5 705.0 665.0C709.2 666.5 712.0 669.2 715.0 672.0C718.0 674.8 720.5 678.7 723.0 682.0C725.5 685.3 728.3 687.3 730.0 692.0C731.7 696.7 732.5 707.0 733.0 710.0" fill="none" stroke="#0000ff" stroke-width="1.4" stroke-linejoin="round" stroke-linecap="round" />
<path d="M647.0 710.0C647.5 707.5 649.8 698.8 650.0 695.0C650.2 691.2 647.5 689.5 648.0 687.0C648.5 684.5 651.0 682.0 653.0 680.0C655.0 678.0 657.2 676.3 660.0 675.0C662.8 673.7 666.7 672.8 670.0 672.0C673.3 671.2 676.7 670.0 680.0 670.0C683.3 670.0 686.7 671.5 690.0 672.0C693.3 672.5 697.0 671.7 700.0 673.0C703.0 674.3 705.5 677.5 708.0 680.0C710.5 682.5 713.0 685.2 715.0 688.0C717.0 690.8 718.8 693.3 720.0 697.0C721.2 700.7 721.7 707.8 722.0 710.0" fill="none" stroke="#0000ff" stroke-width="1.4" stroke-linejoin="round" stroke-linecap="round" />
<path d="M677.0 684.0C677.3 682.2 678.2 678.8 679.0 678.0C679.8 677.2 681.3 677.7 682.0 679.0C682.7 680.3 683.3 684.2 683.0 686.0C682.7 687.8 681.0 689.5 680.0 690.0C679.0 690.5 677.5 690.0 677.0 689.0C676.5 688.0 676.7 685.8 677.0 684.0Z" fill="none" stroke="#0000ff" stroke-width="1.4" stroke-linejoin="round" stroke-linecap="round" />
<path d="M610.0 673.0C611.0 671.8 615.2 670.3 618.0 670.0C620.8 669.7 625.0 670.2 627.0 671.0C629.0 671.8 630.8 674.0 630.0 675.0C629.2 676.0 625.0 676.7 622.0 677.0C619.0 677.3 614.0 677.7 612.0 677.0C610.0 676.3 609.0 674.2 610.0 673.0Z" fill="none" stroke="#0000ff" stroke-width="1.4" stroke-linejoin="round" stroke-linecap="round" />
<path d="M633.0 669.0C633.5 667.7 636.0 665.5 638.0 665.0C640.0 664.5 643.5 665.2 645.0 666.0C646.5 666.8 647.7 668.8 647.0 670.0C646.3 671.2 643.0 672.5 641.0 673.0C639.0 673.5 636.3 673.7 635.0 673.0C633.7 672.3 632.5 670.3 633.0 669.0Z" fill="none" stroke="#0000ff" stroke-width="1.4" stroke-linejoin="round" stroke-linecap="round" />
<path d="M657.0 661.0C657.0 659.7 659.5 657.3 661.0 657.0C662.5 656.7 665.0 658.0 666.0 659.0C667.0 660.0 667.8 662.0 667.0 663.0C666.2 664.0 662.7 665.3 661.0 665.0C659.3 664.7 657.0 662.3 657.0 661.0Z" fill="none" stroke="#0000ff" stroke-width="1.4" stroke-linejoin="round" stroke-linecap="round" />
<path d="M715.0 696.0C715.3 694.0 716.8 690.3 718.0 690.0C719.2 689.7 721.7 692.0 722.0 694.0C722.3 696.0 721.0 700.7 720.0 702.0C719.0 703.3 716.8 703.0 716.0 702.0C715.2 701.0 714.7 698.0 715.0 696.0Z" fill="none" stroke="#0000ff" stroke-width="1.4" stroke-linejoin="round" stroke-linecap="round" />
<rect x="821.5" y="195.0" width="47.6" height="21.2" fill="none" stroke="#6a6af2" stroke-width="0.9"/>
<text x="845.0" y="212.4" font-size="19" fill="#0000ff" text-anchor="middle">1020</text>
<rect x="657.0" y="353.0" width="47.6" height="21.2" fill="none" stroke="#6a6af2" stroke-width="0.9"/>
<text x="680.5" y="370.4" font-size="19" fill="#0000ff" text-anchor="middle">1020</text>
<rect x="879.0" y="362.0" width="47.6" height="21.2" fill="none" stroke="#6a6af2" stroke-width="0.9"/>
<text x="902.5" y="379.4" font-size="19" fill="#0000ff" text-anchor="middle">1020</text>
<rect x="759.0" y="434.0" width="47.6" height="21.2" fill="none" stroke="#6a6af2" stroke-width="0.9"/>
<text x="782.5" y="451.4" font-size="19" fill="#0000ff" text-anchor="middle">1020</text>
<rect x="818.5" y="444.0" width="47.6" height="21.2" fill="none" stroke="#6a6af2" stroke-width="0.9"/>
<text x="842.0" y="461.4" font-size="19" fill="#0000ff" text-anchor="middle">1020</text>
<rect x="828.0" y="550.0" width="47.6" height="21.2" fill="none" stroke="#6a6af2" stroke-width="0.9"/>
<text x="851.5" y="567.4" font-size="19" fill="#0000ff" text-anchor="middle">1020</text>
<rect x="663.5" y="648.0" width="47.6" height="21.2" fill="none" stroke="#6a6af2" stroke-width="0.9"/>
<text x="687.0" y="665.4" font-size="19" fill="#0000ff" text-anchor="middle">1020</text>
<rect x="288.3" y="525.5" width="47.6" height="21.2" fill="none" stroke="#6a6af2" stroke-width="0.9"/>
<text x="311.8" y="542.9" font-size="19" fill="#0000ff" text-anchor="middle">1010</text>
<rect x="455.5" y="617.2" width="47.6" height="21.2" fill="none" stroke="#6a6af2" stroke-width="0.9"/>
<text x="479.0" y="634.6" font-size="19" fill="#0000ff" text-anchor="middle">1010</text>
<circle cx="281.5" cy="330.5" r="4.3" fill="#000"/>
<text x="286.8" y="333.3" font-size="10.4" fill="#000">Uralsk</text>
<circle cx="377.0" cy="370.5" r="4.3" fill="#000"/>
<text x="382.3" y="373.3" font-size="10.4" fill="#000">Aktobe</text>
<circle cx="490.0" cy="301.5" r="4.3" fill="#000"/>
<text x="495.3" y="304.3" font-size="10.4" fill="#000">Kostanay</text>
<circle cx="578.5" cy="262.0" r="4.3" fill="#000"/>
<text x="583.8" y="264.8" font-size="10.4" fill="#000">Petropavlovsk</text>
<circle cx="584.5" cy="300.0" r="4.3" fill="#000"/>
<text x="589.8" y="302.8" font-size="10.4" fill="#000">Kokshetau</text>
<circle cx="708.5" cy="317.0" r="4.3" fill="#000"/>
<text x="713.8" y="319.8" font-size="10.4" fill="#000">Pavlodar</text>
<circle cx="816.0" cy="362.0" r="4.3" fill="#000"/>
<text x="821.3" y="364.8" font-size="10.4" fill="#000">Ustkamen</text>
<circle cx="651.5" cy="391.0" r="4.3" fill="#000"/>
<text x="656.8" y="393.8" font-size="10.4" fill="#000">Karaganda</text>
<circle cx="558.0" cy="449.0" r="4.3" fill="#000"/>
<text x="563.3" y="451.8" font-size="10.4" fill="#000">Zheskazgan</text>
<circle cx="268.0" cy="440.5" r="4.3" fill="#000"/>
<text x="273.3" y="443.3" font-size="10.4" fill="#000">Atyrau</text>
<circle cx="236.5" cy="528.0" r="4.3" fill="#000"/>
<text x="241.8" y="530.8" font-size="10.4" fill="#000">Aktau</text>
<circle cx="516.5" cy="529.5" r="4.3" fill="#000"/>
<text x="521.8" y="532.3" font-size="10.4" fill="#000">Kyzylorda</text>
<circle cx="762.0" cy="508.5" r="4.3" fill="#000"/>
<text x="767.3" y="511.3" font-size="10.4" fill="#000">Taldykurgan</text>
<circle cx="630.5" cy="579.0" r="4.3" fill="#000"/>
<text x="635.8" y="581.8" font-size="10.4" fill="#000">Taraz</text>
<circle cx="599.5" cy="596.5" r="4.3" fill="#000"/>
<text x="604.8" y="599.3" font-size="10.4" fill="#000">Shymkent</text>
<polygon points="620.0,350.0 621.5,354.0 625.7,354.1 622.4,356.8 623.5,360.9 620.0,358.5 616.5,360.9 617.6,356.8 614.3,354.1 618.5,354.0" fill="none" stroke="#e8202a" stroke-width="1.4"/>
<text x="626.3" y="358.8" font-size="11.8" font-weight="bold" fill="#000">Astana</text>
<polygon points="740.0,555.0 741.5,559.0 745.7,559.1 742.4,561.8 743.5,565.9 740.0,563.5 736.5,565.9 737.6,561.8 734.3,559.1 738.5,559.0" fill="none" stroke="#e8202a" stroke-width="1.4"/>
<text x="746.3" y="563.8" font-size="11.8" font-weight="bold" fill="#000">Almaty</text>
<path d="M258.0 582.0L270.0 580.0L283.0 582.0L290.0 595.0L295.0 610.0L290.0 618.0L280.0 617.0L270.0 620.0L262.0 612.0L258.0 600.0" fill="none" stroke="#b8b8b0" stroke-width="0.7" stroke-linejoin="round" stroke-linecap="round" />
<path d="M322.0 608.0L343.0 612.0L345.0 600.0L348.0 592.0L355.0 590.0L362.0 588.0L365.0 583.0L372.0 586.0L370.0 578.0L378.0 575.0L383.0 582.0L390.0 587.0L400.0 592.0L405.0 597.0L407.0 605.0L405.0 612.0L412.0 618.0L425.0 622.0L435.0 620.0L440.0 627.0L443.0 637.0L448.0 645.0L450.0 655.0L455.0 660.0L470.0 672.0L485.0 685.0L495.0 690.0L510.0 702.0L515.0 710.0" fill="none" stroke="#b8b8b0" stroke-width="0.7" stroke-linejoin="round" stroke-linecap="round" />
<path d="M282.0 704.0L290.0 697.0L305.0 694.0L315.0 696.0L325.0 692.0L337.0 695.0L340.0 704.0" fill="none" stroke="#b8b8b0" stroke-width="0.7" stroke-linejoin="round" stroke-linecap="round" />
<path d="M377.0 540.0L380.0 548.0L378.0 556.0L384.0 560.0L392.0 562.0L398.0 570.0L406.0 572.0L412.0 568.0L420.0 572.0L428.0 566.0" fill="none" stroke="#b8b8b0" stroke-width="0.7" stroke-linejoin="round" stroke-linecap="round" />
<path d="M600.0 616.0L606.0 620.0L612.0 626.0L618.0 634.0L624.0 640.0L630.0 636.0L636.0 640.0L640.0 648.0L648.0 650.0L656.0 644.0L664.0 640.0L668.0 632.0L676.0 628.0L670.0 622.0L662.0 620.0L654.0 616.0L646.0 618.0L640.0 612.0" fill="none" stroke="#b8b8b0" stroke-width="0.7" stroke-linejoin="round" stroke-linecap="round" />
<path d="M580.0 646.0L590.0 650.0L600.0 652.0L612.0 650.0L620.0 656.0L628.0 660.0L636.0 656.0L644.0 660.0L650.0 668.0L660.0 672.0L668.0 668.0L676.0 672.0L684.0 678.0L690.0 686.0L698.0 690.0L706.0 694.0L712.0 700.0L716.0 706.0" fill="none" stroke="#b8b8b0" stroke-width="0.7" stroke-linejoin="round" stroke-linecap="round" />
<path d="M560.0 664.0L570.0 660.0L580.0 656.0L590.0 654.0L598.0 658.0" fill="none" stroke="#b8b8b0" stroke-width="0.7" stroke-linejoin="round" stroke-linecap="round" />
<path d="M690.0 600.0L700.0 604.0L712.0 606.0L724.0 610.0L736.0 616.0L748.0 620.0L760.0 616.0L772.0 610.0L784.0 604.0L796.0 598.0L804.0 590.0L808.0 582.0" fill="none" stroke="#b8b8b0" stroke-width="0.7" stroke-linejoin="round" stroke-linecap="round" />
<path d="M192.0 393.0L189.0 397.0L190.0 403.0L193.0 407.0L195.0 404.0L200.0 407.0L206.0 409.0L208.0 415.0L210.0 419.0L213.0 420.0L213.7 430.0L216.0 437.0L213.3 440.0L209.0 437.0L206.0 438.6L209.0 444.0L215.0 450.0L221.0 454.4L227.0 456.0L229.0 450.0" fill="none" stroke="#0c0c0c" stroke-width="1.8" stroke-linejoin="round" stroke-linecap="round" />
<path d="M182.8 383.0L187.0 377.0L193.0 370.0L197.0 366.0L194.0 361.0L195.0 356.0L199.0 350.0L200.0 347.0L205.0 346.0L209.0 340.0L211.0 336.0L214.0 335.0L217.0 337.0L219.0 342.0L221.0 349.0L224.0 355.0L228.0 354.4L232.0 353.0L233.6 349.0L232.6 340.0L233.0 335.0L238.0 335.0L243.0 332.0L248.0 329.0L249.0 326.0L254.0 325.0L258.0 323.0L262.0 322.4L267.0 321.0L270.0 318.0L274.0 316.0L275.6 313.6L278.0 316.0L282.0 317.0L284.0 320.0L288.0 323.0L292.0 320.0L296.0 319.0L302.0 319.0L303.0 323.0L305.0 326.0L310.0 328.0L316.0 329.0L320.0 332.0L323.0 337.0L326.0 340.0L329.0 345.0L331.0 349.0L334.0 350.0L337.0 349.0L342.0 350.0L345.0 354.0L349.0 357.0L355.0 358.0" fill="none" stroke="#2e2e2e" stroke-width="1.8" stroke-linejoin="round" stroke-linecap="round" />
<path d="M355.0 358.0L361.0 353.0L367.0 349.0L371.0 350.0L375.0 349.6L380.0 351.0L383.0 356.0L388.0 351.0L392.0 350.0L398.0 350.0L402.0 353.0L404.0 359.0L409.0 362.0L413.0 365.0L418.0 368.0L424.0 365.0L427.0 361.0L430.0 365.0L434.0 367.0L440.0 367.0L447.0 365.0L453.0 361.0L455.0 352.0L455.0 350.0" fill="none" stroke="#2e2e2e" stroke-width="1.8" stroke-linejoin="round" stroke-linecap="round" />
<path d="M455.0 350.0L453.0 350.0L449.0 346.0L443.0 343.0L439.0 339.0L435.0 337.0L431.0 332.0L435.0 329.0L441.0 326.0L446.0 323.0L447.0 318.0L443.0 314.0L443.0 310.0L446.0 307.0L451.0 304.0L457.0 303.0L462.0 306.0L466.0 305.0L464.0 301.0L459.0 300.0L453.0 298.0L451.0 294.0L453.0 291.0L458.0 290.0L457.0 288.0L452.0 289.0L448.0 287.0L450.0 282.0L453.0 280.0L455.0 276.0L459.0 278.0L464.0 279.0L469.0 278.0L474.0 280.0L477.0 278.0L483.0 276.0L491.0 274.0L499.0 272.0L507.0 270.0L515.0 269.0L519.0 265.0L525.0 264.0L529.0 262.0L535.0 262.0L543.0 260.0L551.0 258.0L557.0 256.0L560.0 254.0" fill="none" stroke="#2e2e2e" stroke-width="1.8" stroke-linejoin="round" stroke-linecap="round" />
<path d="M560.0 256.0L563.0 250.0L570.0 248.0L575.0 243.0L582.0 245.0L592.0 247.0L597.0 250.0L603.0 245.0L607.0 250.0L609.0 262.0L610.0 272.0L615.0 275.0L622.0 272.0L628.0 270.0L632.0 278.0L640.0 275.0L648.0 278.0L652.0 275.0L652.0 282.0L648.0 288.0L652.0 290.0L658.0 287.0L664.0 288.0L667.0 282.0L673.0 278.0L680.0 272.0L688.0 266.0L692.0 262.0L698.0 262.0L702.0 259.0L701.0 265.0L695.0 268.0L698.0 272.0" fill="none" stroke="#2e2e2e" stroke-width="1.8" stroke-linejoin="round" stroke-linecap="round" />
<path d="M698.0 272.0C701.0 274.0 711.2 280.0 716.0 284.0C720.8 288.0 722.2 289.7 727.0 296.0C731.8 302.3 740.0 315.0 745.0 322.0C750.0 329.0 753.5 333.5 757.0 338.0C760.5 342.5 764.5 347.2 766.0 349.0" fill="none" stroke="#2e2e2e" stroke-width="1.6" stroke-linejoin="round" stroke-linecap="round" />
<path d="M766.0 349.0L770.0 343.0L772.0 336.0L778.0 334.0L780.0 335.0L784.0 338.0L787.0 341.0L791.0 343.0L794.0 346.0" fill="none" stroke="#2e2e2e" stroke-width="1.8" stroke-linejoin="round" stroke-linecap="round" />
<path d="M794.0 346.0L798.0 344.0L803.0 342.0L808.0 341.0L811.0 337.0L815.0 335.0L818.0 333.0L824.0 333.0L830.0 336.0L835.0 340.0L839.0 346.0L840.0 349.0L846.0 350.0L852.0 353.0L856.0 357.0L859.0 361.0L863.0 362.0L870.0 361.0L878.0 360.0L881.0 355.0L884.0 351.0L887.0 352.0L886.0 356.0L889.0 360.0L893.0 364.0L898.0 365.0L900.0 367.0L895.0 370.0L892.0 374.0L893.0 380.0L890.0 386.0L885.0 389.0L880.0 391.0L878.0 396.0L878.0 400.0L880.0 410.0L883.0 420.0L882.0 428.0L875.0 432.0L870.0 437.0L865.0 433.0L858.0 436.0L850.0 435.0L840.0 434.0L837.0 440.0L835.0 455.0L833.0 470.0L832.0 483.0L840.0 483.0L840.0 490.0L832.0 490.0L825.0 488.0L820.0 492.0L812.0 495.0L805.0 500.0L798.0 503.0L793.0 507.0L800.0 510.0L802.0 520.0L805.0 530.0L810.0 540.0L815.0 548.0L812.0 553.0L810.0 558.0L813.0 560.0L808.0 565.0L808.0 572.0L810.0 578.0L808.0 582.0" fill="none" stroke="#2e2e2e" stroke-width="1.9" stroke-linejoin="round" stroke-linecap="round" />
<path d="M808.0 582.0L800.0 577.0L790.0 570.0L785.0 565.0L775.0 567.0L765.0 565.0L750.0 567.0L740.0 568.0L728.0 570.0L720.0 570.0L710.0 567.0L700.0 565.0L690.0 567.0L683.0 565.0L676.0 572.0L674.0 580.0L675.0 588.0L672.0 588.0L665.0 586.0L658.0 585.0L650.0 583.0L640.0 581.0L630.0 581.0" fill="none" stroke="#2e2e2e" stroke-width="1.9" stroke-linejoin="round" stroke-linecap="round" />
<path d="M630.0 581.0L627.0 585.0L624.0 590.0L622.0 592.0L618.0 596.0L615.0 601.0L611.0 606.0L606.0 610.0L600.0 615.0L592.0 620.0L588.0 625.0L583.0 630.0L580.0 634.0L576.0 633.0L578.0 638.0L580.0 643.0L575.0 644.0L570.0 641.0L564.0 638.0L566.0 635.0L567.0 630.0L562.0 628.0L550.0 627.0L538.0 625.0L537.0 608.0L526.0 606.0L527.0 597.0L527.0 590.0L527.0 580.0L522.0 580.0L520.0 575.0L515.0 567.0L510.0 560.0L508.0 557.0L497.0 561.0L470.0 559.0L447.0 562.0L435.0 545.0L430.0 543.0L387.0 500.0L355.0 505.5L336.0 508.0L322.0 607.5L318.0 608.0L312.0 608.0L308.0 603.0L304.0 595.0L302.0 587.0L295.0 580.0L288.0 575.0L275.0 574.5L265.0 575.5L258.0 578.0L252.0 583.0" fill="none" stroke="#2e2e2e" stroke-width="1.8" stroke-linejoin="round" stroke-linecap="round" />
<path d="M182.8 383.0L186.3 387.6L191.0 391.7L197.0 394.0L208.6 399.0L220.0 405.0L228.0 410.0L231.0 409.0L241.0 408.0L250.0 403.0L261.0 399.0L264.0 397.0L272.0 399.0L278.0 403.0L288.0 405.0L293.0 400.0L294.0 394.0L300.0 396.0L308.0 393.0L312.0 388.0L313.0 385.0" fill="none" stroke="#0c0c0c" stroke-width="2.1" stroke-linejoin="round" stroke-linecap="round" />
<path d="M312.0 392.0L317.0 395.0L317.0 405.0L323.0 403.0L328.0 406.0L328.0 420.0L330.0 435.0L327.0 448.0L330.0 460.0L338.0 468.0L345.0 472.0L348.0 480.0L349.0 495.0L350.0 506.0" fill="none" stroke="#0c0c0c" stroke-width="2.1" stroke-linejoin="round" stroke-linecap="round" />
<path d="M278.0 483.0L285.0 480.0L297.0 477.0L303.0 472.0L315.0 471.0L325.0 470.0L332.0 469.0L337.0 475.0L343.0 480.0L348.0 483.0" fill="none" stroke="#0c0c0c" stroke-width="2.1" stroke-linejoin="round" stroke-linecap="round" />
<path d="M334.0 350.0L333.0 356.0L330.0 361.0L328.6 366.0L328.0 372.0L325.0 377.0L320.0 380.0L314.0 384.0L312.0 388.0" fill="none" stroke="#0c0c0c" stroke-width="2.1" stroke-linejoin="round" stroke-linecap="round" />
<path d="M395.0 508.0L395.0 490.0L400.0 482.0L410.0 472.0L418.0 467.0L424.0 467.0L425.0 463.0L432.0 462.0L440.0 447.0L451.0 445.5L458.0 454.0L462.0 461.0L468.0 465.0L485.0 473.0L500.0 480.0L513.0 488.0L525.0 493.0L540.0 496.0L550.0 497.0L560.0 499.0L627.0 495.5L680.0 492.5" fill="none" stroke="#0c0c0c" stroke-width="2.1" stroke-linejoin="round" stroke-linecap="round" />
<path d="M463.0 467.0L495.0 445.0L490.0 432.0L483.0 425.0L475.0 420.0L473.0 413.0L466.0 410.0L463.0 403.0L464.0 397.0L470.0 393.0L475.0 388.0L473.0 385.0L471.0 380.0L469.0 374.0L466.0 366.0L463.0 358.0L459.0 354.0L455.0 352.0" fill="none" stroke="#0c0c0c" stroke-width="2.1" stroke-linejoin="round" stroke-linecap="round" />
<path d="M490.0 432.0L493.0 430.0L497.0 428.0L500.0 422.0L505.0 420.0L510.0 418.0L522.0 420.0L525.0 417.0L535.0 412.0L540.0 405.0" fill="none" stroke="#0c0c0c" stroke-width="2.1" stroke-linejoin="round" stroke-linecap="round" />
<path d="M550.0 497.0L553.0 505.0L550.0 515.0L555.0 520.0L557.0 530.0L557.0 540.0L560.0 543.0L565.0 548.0L569.0 553.0L566.0 557.0L564.0 563.0L562.0 570.0L565.0 573.0L558.0 577.0L550.0 581.0L540.0 588.0L533.0 593.0L527.0 597.0" fill="none" stroke="#0c0c0c" stroke-width="2.1" stroke-linejoin="round" stroke-linecap="round" />
<path d="M587.0 499.0L592.0 510.0L597.0 525.0L600.0 535.0L602.0 547.0L600.0 555.0L597.0 565.0L595.0 568.0L600.0 572.0L607.0 577.0L610.0 585.0L615.0 590.0L620.0 593.0L622.0 592.0" fill="none" stroke="#0c0c0c" stroke-width="2.1" stroke-linejoin="round" stroke-linecap="round" />
<path d="M627.0 495.5L625.0 475.0L625.0 453.0L632.0 450.0L636.0 445.0L635.0 435.0L638.0 428.0L637.0 418.0L635.0 410.0L625.0 409.0L615.0 408.0L612.0 405.0L612.0 412.0L610.0 420.0L600.0 423.0L592.0 427.0L582.0 420.0L575.0 415.0L565.0 413.0L564.0 405.0L562.0 395.0L560.0 388.0" fill="none" stroke="#0c0c0c" stroke-width="2.1" stroke-linejoin="round" stroke-linecap="round" />
<path d="M532.0 263.0L533.0 270.0L535.0 276.0L532.0 280.0L533.0 286.0L531.0 292.0L533.0 298.0L536.0 300.0L531.0 303.0L530.0 312.0L531.0 325.0L536.0 327.0L545.0 329.0L553.0 329.0L553.0 325.0L558.0 325.0L562.0 328.0L566.0 322.0L570.0 317.0L575.0 312.0L576.0 305.0L573.0 299.0L572.0 297.0L575.0 292.0L582.0 290.0L590.0 289.0L595.0 295.0L603.0 297.0L612.0 296.0L618.0 300.0L622.0 304.0L625.0 307.0L632.0 306.0L640.0 304.0L643.0 309.0L648.0 311.0L655.0 314.0L660.0 316.0" fill="none" stroke="#0c0c0c" stroke-width="2.1" stroke-linejoin="round" stroke-linecap="round" />
<path d="M531.0 325.0L525.0 330.0L519.0 342.0L521.0 350.0L520.0 357.0L524.0 362.0L530.0 366.0L536.0 370.0L545.0 374.0L549.0 379.0L556.0 377.0L564.0 376.0L566.0 380.0L560.0 388.0L553.0 398.0L545.0 405.0L540.0 405.0" fill="none" stroke="#0c0c0c" stroke-width="2.1" stroke-linejoin="round" stroke-linecap="round" />
<path d="M650.0 292.0L652.0 298.0L654.0 304.0L658.0 308.0L659.0 313.0L661.0 320.0L663.0 330.0L660.0 338.0L664.0 342.0L660.0 347.0L660.0 352.0L655.0 354.0L648.0 358.0L643.0 362.0L637.0 368.0L634.0 374.0L629.0 375.0L629.0 370.0L626.0 367.0L622.0 368.0L618.0 373.0L613.0 377.0L611.0 382.0L608.0 386.0L604.0 388.0L602.0 384.0L597.0 385.0L593.0 382.0L588.0 380.0L586.0 385.0L581.0 386.0L577.0 384.0L579.0 380.0L579.0 369.0L575.0 368.0L570.0 371.0L564.0 374.0L564.0 376.0" fill="none" stroke="#0c0c0c" stroke-width="2.1" stroke-linejoin="round" stroke-linecap="round" />
<path d="M660.0 352.0L663.0 365.0L668.0 368.0L678.0 370.0L685.0 376.0L682.0 380.0L686.0 377.0L694.6 375.0L704.4 373.0L711.0 371.0L713.0 364.4L717.0 361.0L722.0 363.0L727.0 364.0L729.0 368.0L730.0 371.0L734.7 373.0L742.5 374.0L746.4 371.0L748.8 365.4L747.4 359.5L744.5 354.6L737.6 351.7L733.7 346.8L738.6 343.0L744.5 340.0L741.0 338.0L745.0 335.0L748.0 331.0L751.0 326.0" fill="none" stroke="#0c0c0c" stroke-width="2.1" stroke-linejoin="round" stroke-linecap="round" />
<path d="M730.0 371.0L727.9 376.0L723.0 380.0L723.0 386.0L721.0 389.8L714.0 394.7L715.0 398.6L719.0 401.5L723.0 404.5L720.0 407.4L722.0 410.3L728.8 409.3L729.8 413.2L727.0 418.0L725.0 422.0L730.0 428.0L730.0 440.0L727.0 447.0L728.0 453.0L735.0 455.0L742.0 450.0L750.0 447.0L757.0 450.0L765.0 450.0L770.0 455.0L778.0 457.0L785.0 455.0L793.0 458.0L800.0 460.0L810.0 460.0L818.0 463.0L825.0 470.0L830.0 478.0L832.0 483.0" fill="none" stroke="#0c0c0c" stroke-width="2.1" stroke-linejoin="round" stroke-linecap="round" />
<path d="M740.0 453.0L742.0 466.0" fill="none" stroke="#0c0c0c" stroke-width="2.1" stroke-linejoin="round" stroke-linecap="round" />
<path d="M794.0 346.0L796.0 353.0L796.0 357.0L791.0 358.0L793.0 365.0L798.0 369.0L802.0 375.0L808.0 379.0L815.0 382.0L821.0 383.0L823.0 389.0L828.0 391.0L832.0 396.0L835.0 400.0L838.0 405.0L835.0 415.0L835.0 425.0L840.0 430.0L840.0 435.0" fill="none" stroke="#0c0c0c" stroke-width="2.1" stroke-linejoin="round" stroke-linecap="round" />
<path d="M680.0 492.5L683.0 485.0L688.0 478.0L695.0 473.0L705.0 470.0L720.0 468.0L735.0 470.0L742.0 466.0" fill="none" stroke="#1a3350" stroke-width="1.8" stroke-linejoin="round" stroke-linecap="round" />
<path d="M680.0 492.5L679.0 510.0L675.0 512.0L675.0 517.0L681.0 517.0L681.0 512.0" fill="none" stroke="#1a3350" stroke-width="1.8" stroke-linejoin="round" stroke-linecap="round" />
<path d="M680.0 517.0L683.0 522.0L688.0 525.0L691.0 533.0L698.0 537.0L705.0 540.0L706.0 548.0L703.0 555.0L710.0 558.0L712.0 565.0L720.0 568.0L728.0 570.0" fill="none" stroke="#0c0c0c" stroke-width="2.1" stroke-linejoin="round" stroke-linecap="round" />
<path d="M718.0 468.0L719.0 480.0L720.0 495.0L725.0 505.0L732.0 512.0L737.0 522.0L745.0 530.0L755.0 535.0L757.0 540.0L765.0 538.0L775.0 537.0L785.0 533.0L790.0 532.0L795.0 535.0L805.0 534.0" fill="none" stroke="#0c0c0c" stroke-width="2.1" stroke-linejoin="round" stroke-linecap="round" />
<path d="M216 447L221 449L226 451L229 450L228 456L224 458L220 455L217 451Z" fill="#1a1a1a"/>
<path d="M225.0 455.0L232.0 448.0L240.0 443.0L250.0 440.0L258.0 441.0L263.0 446.0L270.0 448.0L278.0 450.0L285.0 455.0L287.0 462.0L284.0 470.0L280.0 475.0L278.0 483.0" fill="none" stroke="#123c63" stroke-width="2.1" stroke-linejoin="round" stroke-linecap="round" />
<path d="M278.0 483.0L265.0 485.0L255.0 487.0L248.0 492.0L240.0 497.0L235.0 500.0L228.0 500.0L225.0 503.0L228.0 508.0L233.0 512.0L234.0 520.0L236.0 528.0L238.0 540.0L243.0 545.0L247.0 552.0L255.0 556.0L260.0 560.0L258.0 568.0L254.0 575.0L252.0 583.0" fill="none" stroke="#123c63" stroke-width="2.1" stroke-linejoin="round" stroke-linecap="round" />
<path d="M226.0 492.0L229.0 489.0L231.0 493.0L229.0 498.0L227.0 496.0" fill="none" stroke="#123c63" stroke-width="1.2" stroke-linejoin="round" stroke-linecap="round" />
<path d="M234.0 503.0L238.0 500.0L243.0 503.0L246.0 507.0L249.0 506.0" fill="none" stroke="#123c63" stroke-width="1.4" stroke-linejoin="round" stroke-linecap="round" />
<path d="M214.7 170L55.6 720" stroke="rgba(205,205,205,0.5)" stroke-width="0.8" fill="none"/>
<path d="M293.2 170L171.0 720" stroke="rgba(205,205,205,0.5)" stroke-width="0.8" fill="none"/>
<path d="M369.5 170L283.4 720" stroke="rgba(205,205,205,0.5)" stroke-width="0.8" fill="none"/>
<path d="M444.3 170L393.4 720" stroke="rgba(205,205,205,0.5)" stroke-width="0.8" fill="none"/>
<path d="M518.3 170L502.2 720" stroke="rgba(205,205,205,0.5)" stroke-width="0.8" fill="none"/>
<path d="M591.7 170L610.3 720" stroke="rgba(205,205,205,0.5)" stroke-width="0.8" fill="none"/>
<path d="M665.7 170L719.2 720" stroke="rgba(205,205,205,0.5)" stroke-width="0.8" fill="none"/>
<path d="M740.8 170L829.6 720" stroke="rgba(205,205,205,0.5)" stroke-width="0.8" fill="none"/>
<path d="M817.4 170L942.3 720" stroke="rgba(205,205,205,0.5)" stroke-width="0.8" fill="none"/>
<circle cx="552.3" cy="-997.0" r="1251.2" stroke="rgba(205,205,205,0.5)" stroke-width="0.8" fill="none"/>
<circle cx="552.3" cy="-997.0" r="1386.6" stroke="rgba(205,205,205,0.5)" stroke-width="0.8" fill="none"/>
<circle cx="552.3" cy="-997.0" r="1521.6" stroke="rgba(205,205,205,0.5)" stroke-width="0.8" fill="none"/>
<circle cx="552.3" cy="-997.0" r="1657.0" stroke="rgba(205,205,205,0.5)" stroke-width="0.8" fill="none"/>
</g>
<rect x="153.5" y="182.5" width="784" height="521.7" fill="none" stroke="#2a2a2a" stroke-width="1.5"/>
<!-- ticks -->
<g stroke="#2a2a2a" stroke-width="1.5">
<path d="M137.8 217.5H153.5M137.8 274.3H153.5M137.8 331.0H153.5M137.8 387.6H153.5M137.8 443.4H153.5M137.8 499.3H153.5M137.8 554.8H153.5M137.8 611.3H153.5M137.8 667.9H153.5"/>
<path d="M174.6 704V719.6M285.9 704V719.6M394.9 704V719.6M502.7 704V719.6M609.8 704V719.6M717.6 704V719.6M827.0 704V719.6"/>
</g>
<g font-size="18.3" text-anchor="end"><text x="126.4" y="224.0">54°N</text><text x="126.4" y="280.8">52°N</text><text x="126.4" y="337.5">50°N</text><text x="126.4" y="394.1">48°N</text><text x="126.4" y="449.9">46°N</text><text x="126.4" y="505.8">44°N</text><text x="126.4" y="561.3">42°N</text><text x="126.4" y="617.8">40°N</text><text x="126.4" y="674.4">38°N</text></g>
<g font-size="18.3" text-anchor="middle"><text x="174.6" y="746.6">50°E</text><text x="285.9" y="746.6">55°E</text><text x="394.9" y="746.6">60°E</text><text x="502.7" y="746.6">65°E</text><text x="609.8" y="746.6">70°E</text><text x="717.6" y="746.6">75°E</text><text x="827.0" y="746.6">80°E</text></g>
<!-- colorbar -->
<text x="545.6" y="808.9" font-size="15.3" text-anchor="middle">Surface Air Temperature (C)</text>
<g stroke="#222" stroke-width="0.9">
<rect x="295.4" y="820.3" width="71.4" height="27" fill="#4B0082"/>
<rect x="366.8" y="820.3" width="71.4" height="27" fill="#663399"/>
<rect x="438.2" y="820.3" width="71.4" height="27" fill="#003399"/>
<rect x="509.6" y="820.3" width="71.4" height="27" fill="#3399FF"/>
<rect x="581.0" y="820.3" width="71.4" height="27" fill="#C8E6FF"/>
<rect x="652.4" y="820.3" width="71.4" height="27" fill="#FFFFFF"/>
<rect x="723.8" y="820.3" width="71.4" height="27" fill="#FFFFC8"/>
</g>
<g font-size="11.9" text-anchor="middle"><text x="366.8" y="877.8">-20</text><text x="438.2" y="877.8">-15</text><text x="509.6" y="877.8">-10</text><text x="581.0" y="877.8">-5</text><text x="652.4" y="877.8">0</text><text x="723.8" y="877.8">5</text></g>
</svg>
</body></html>
